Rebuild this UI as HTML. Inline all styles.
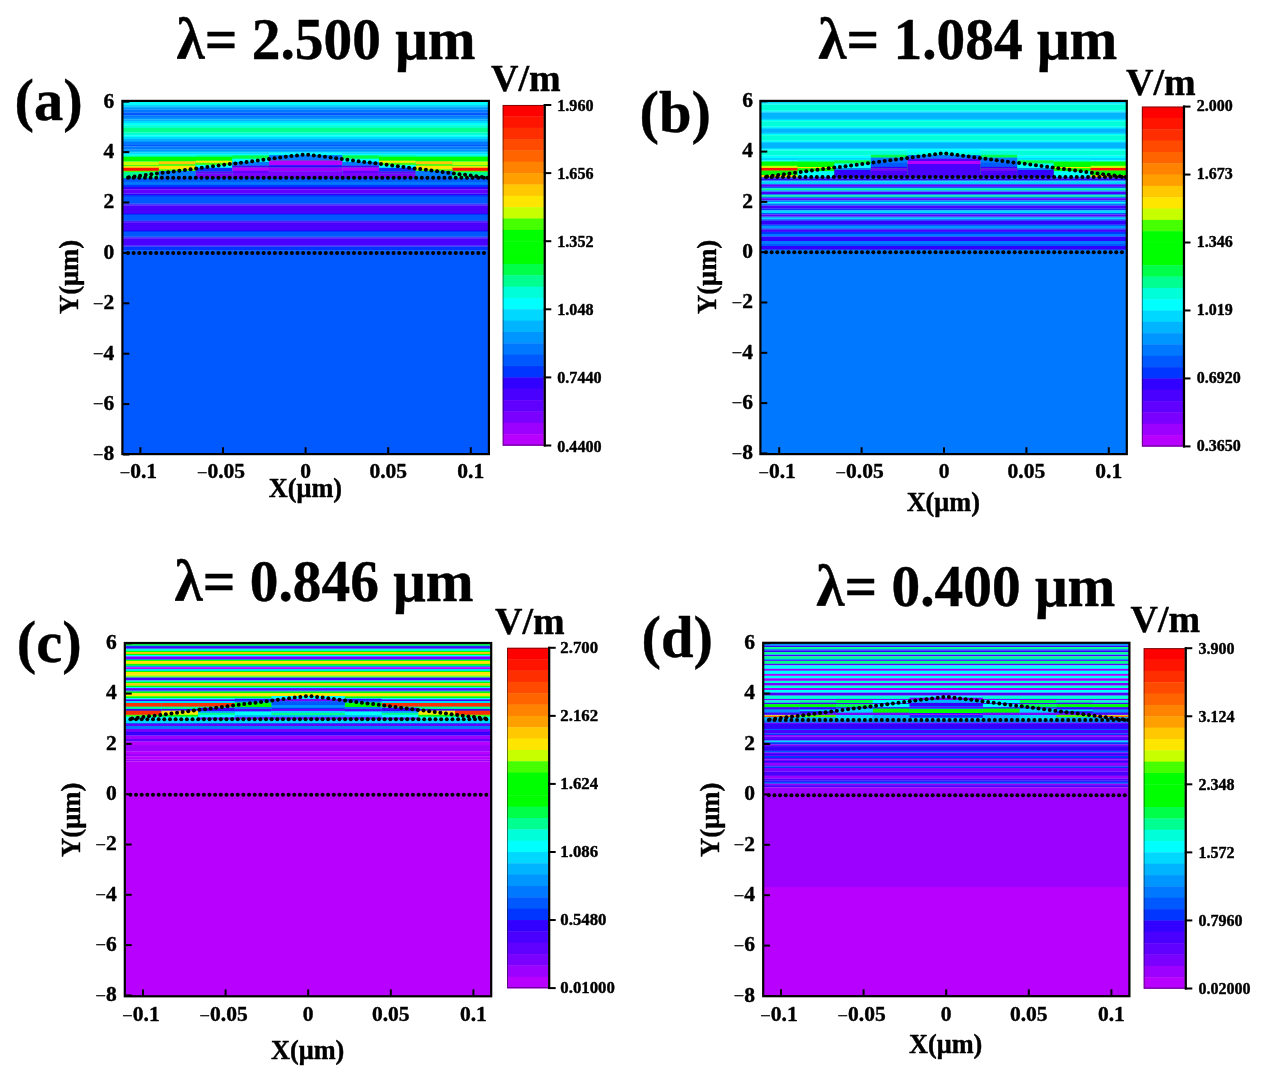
<!DOCTYPE html>
<html><head><meta charset="utf-8"><title>E-field maps</title>
<style>html,body{margin:0;padding:0;background:#fff;}svg{display:block;filter:blur(0.3px);}</style></head>
<body><svg width="1266" height="1079" viewBox="0 0 1266 1079">
<defs><filter id="soft" x="0" y="0" width="1" height="1" color-interpolation-filters="sRGB"><feGaussianBlur stdDeviation="0.7"/></filter><filter id="dsoft" color-interpolation-filters="sRGB"><feGaussianBlur stdDeviation="0.35"/></filter></defs>
<style>text{stroke:#000;stroke-width:0.4px;stroke-linejoin:round;}</style>
<rect width="1266" height="1079" fill="#fff"/>
<clipPath id="clipa"><rect x="122.40" y="100.90" width="366.50" height="353.20"/></clipPath>
<g clip-path="url(#clipa)">
<g filter="url(#soft)">
<rect x="121.30" y="99.00" width="368.70" height="5.95" fill="#00FFFF"/>
<rect x="121.30" y="104.80" width="368.70" height="1.65" fill="#00D8FF"/>
<rect x="121.30" y="106.30" width="368.70" height="1.85" fill="#00B4FF"/>
<rect x="121.30" y="108.00" width="368.70" height="1.75" fill="#0096FF"/>
<rect x="121.30" y="109.60" width="368.70" height="3.15" fill="#0078FF"/>
<rect x="121.30" y="112.60" width="368.70" height="2.75" fill="#0058FF"/>
<rect x="121.30" y="115.20" width="368.70" height="2.75" fill="#0078FF"/>
<rect x="121.30" y="117.80" width="368.70" height="1.85" fill="#0096FF"/>
<rect x="121.30" y="119.50" width="368.70" height="1.65" fill="#00B4FF"/>
<rect x="121.30" y="121.00" width="368.70" height="2.15" fill="#00D8FF"/>
<rect x="121.30" y="123.00" width="368.70" height="2.35" fill="#00FFFF"/>
<rect x="121.30" y="125.20" width="368.70" height="2.75" fill="#00FFD8"/>
<rect x="121.30" y="127.80" width="368.70" height="4.95" fill="#00FF90"/>
<rect x="121.30" y="132.60" width="368.70" height="3.05" fill="#00FFD8"/>
<rect x="121.30" y="135.50" width="368.70" height="1.65" fill="#00FFFF"/>
<rect x="121.30" y="137.00" width="368.70" height="2.15" fill="#00D8FF"/>
<rect x="121.30" y="139.00" width="368.70" height="1.95" fill="#00B4FF"/>
<rect x="121.30" y="140.80" width="368.70" height="1.35" fill="#0096FF"/>
<rect x="121.30" y="142.00" width="368.70" height="2.95" fill="#0078FF"/>
<rect x="121.30" y="144.80" width="368.70" height="1.65" fill="#0058FF"/>
<rect x="121.30" y="146.30" width="368.70" height="3.45" fill="#0078FF"/>
<rect x="121.30" y="149.60" width="368.70" height="1.55" fill="#0096FF"/>
<rect x="121.30" y="151.00" width="368.70" height="1.65" fill="#00B4FF"/>
<rect x="121.30" y="152.50" width="368.70" height="1.55" fill="#00D8FF"/>
<rect x="121.30" y="153.90" width="368.70" height="1.35" fill="#00FFFF"/>
<rect x="121.30" y="155.10" width="368.70" height="1.05" fill="#00FFD8"/>
<rect x="121.30" y="156.00" width="368.70" height="1.15" fill="#00FF90"/>
<rect x="121.30" y="157.00" width="368.70" height="4.75" fill="#00FF00"/>
<rect x="121.30" y="161.60" width="368.70" height="16.35" fill="#00FF90"/>
<rect x="121.30" y="177.80" width="368.70" height="4.25" fill="#0058FF"/>
<rect x="121.30" y="181.90" width="368.70" height="3.15" fill="#0078FF"/>
<rect x="121.30" y="184.90" width="368.70" height="2.25" fill="#0036FF"/>
<rect x="121.30" y="187.00" width="368.70" height="2.45" fill="#3200FF"/>
<rect x="121.30" y="189.30" width="368.70" height="4.25" fill="#6000FF"/>
<rect x="121.30" y="193.40" width="368.70" height="1.75" fill="#3200FF"/>
<rect x="121.30" y="195.00" width="368.70" height="1.95" fill="#0036FF"/>
<rect x="121.30" y="196.80" width="368.70" height="6.75" fill="#0058FF"/>
<rect x="121.30" y="203.40" width="368.70" height="1.15" fill="#0036FF"/>
<rect x="121.30" y="204.40" width="368.70" height="1.15" fill="#3200FF"/>
<rect x="121.30" y="205.40" width="368.70" height="7.75" fill="#4A00FF"/>
<rect x="121.30" y="213.00" width="368.70" height="1.15" fill="#3200FF"/>
<rect x="121.30" y="214.00" width="368.70" height="1.15" fill="#0036FF"/>
<rect x="121.30" y="215.00" width="368.70" height="5.35" fill="#0058FF"/>
<rect x="121.30" y="220.20" width="368.70" height="1.15" fill="#0036FF"/>
<rect x="121.30" y="221.20" width="368.70" height="1.15" fill="#3200FF"/>
<rect x="121.30" y="222.20" width="368.70" height="7.95" fill="#4A00FF"/>
<rect x="121.30" y="230.00" width="368.70" height="1.15" fill="#3200FF"/>
<rect x="121.30" y="231.00" width="368.70" height="1.15" fill="#0036FF"/>
<rect x="121.30" y="232.00" width="368.70" height="4.65" fill="#0058FF"/>
<rect x="121.30" y="236.50" width="368.70" height="1.15" fill="#0036FF"/>
<rect x="121.30" y="237.50" width="368.70" height="1.15" fill="#3200FF"/>
<rect x="121.30" y="238.50" width="368.70" height="7.15" fill="#4A00FF"/>
<rect x="121.30" y="245.50" width="368.70" height="1.15" fill="#3200FF"/>
<rect x="121.30" y="246.50" width="368.70" height="3.75" fill="#0036FF"/>
<rect x="121.30" y="250.10" width="368.70" height="210.05" fill="#0058FF"/>
<rect x="121.30" y="161.60" width="37.60" height="3.75" fill="#C8FF00"/>
<rect x="121.30" y="165.20" width="37.60" height="1.05" fill="#46FF00"/>
<rect x="121.30" y="166.10" width="37.60" height="1.85" fill="#FFE600"/>
<rect x="121.30" y="167.80" width="37.60" height="3.15" fill="#FF1400"/>
<rect x="121.30" y="170.80" width="37.60" height="1.35" fill="#46FF00"/>
<rect x="121.30" y="172.00" width="37.60" height="6.15" fill="#00FF90"/>
<rect x="452.30" y="161.60" width="37.70" height="3.75" fill="#C8FF00"/>
<rect x="452.30" y="165.20" width="37.70" height="1.05" fill="#46FF00"/>
<rect x="452.30" y="166.10" width="37.70" height="1.85" fill="#FFE600"/>
<rect x="452.30" y="167.80" width="37.70" height="3.15" fill="#FF1400"/>
<rect x="452.30" y="170.80" width="37.70" height="1.35" fill="#46FF00"/>
<rect x="452.30" y="172.00" width="37.70" height="6.15" fill="#00FF90"/>
<rect x="158.90" y="161.30" width="36.67" height="3.15" fill="#FFC800"/>
<rect x="158.90" y="164.30" width="36.67" height="1.65" fill="#46FF00"/>
<rect x="158.90" y="165.80" width="36.67" height="3.85" fill="#FFE600"/>
<rect x="158.90" y="169.50" width="36.67" height="1.65" fill="#46FF00"/>
<rect x="158.90" y="171.00" width="36.67" height="7.15" fill="#0078FF"/>
<rect x="415.62" y="161.30" width="36.67" height="3.15" fill="#FFC800"/>
<rect x="415.62" y="164.30" width="36.67" height="1.65" fill="#46FF00"/>
<rect x="415.62" y="165.80" width="36.67" height="3.85" fill="#FFE600"/>
<rect x="415.62" y="169.50" width="36.67" height="1.65" fill="#46FF00"/>
<rect x="415.62" y="171.00" width="36.67" height="7.15" fill="#0078FF"/>
<rect x="195.58" y="155.40" width="36.67" height="1.65" fill="#00FF90"/>
<rect x="195.58" y="156.90" width="36.67" height="3.95" fill="#00FF00"/>
<rect x="195.58" y="160.70" width="36.67" height="2.25" fill="#FFE600"/>
<rect x="195.58" y="162.80" width="36.67" height="2.25" fill="#46FF00"/>
<rect x="195.58" y="164.90" width="36.67" height="3.05" fill="#00FFFF"/>
<rect x="195.58" y="167.80" width="36.67" height="3.65" fill="#0036FF"/>
<rect x="195.58" y="171.30" width="36.67" height="2.35" fill="#6000FF"/>
<rect x="195.58" y="173.50" width="36.67" height="4.45" fill="#7A00FF"/>
<rect x="378.95" y="155.40" width="36.67" height="1.65" fill="#00FF90"/>
<rect x="378.95" y="156.90" width="36.67" height="3.95" fill="#00FF00"/>
<rect x="378.95" y="160.70" width="36.67" height="2.25" fill="#FFE600"/>
<rect x="378.95" y="162.80" width="36.67" height="2.25" fill="#46FF00"/>
<rect x="378.95" y="164.90" width="36.67" height="3.05" fill="#00FFFF"/>
<rect x="378.95" y="167.80" width="36.67" height="3.65" fill="#0036FF"/>
<rect x="378.95" y="171.30" width="36.67" height="2.35" fill="#6000FF"/>
<rect x="378.95" y="173.50" width="36.67" height="4.45" fill="#7A00FF"/>
<rect x="232.25" y="155.40" width="36.67" height="3.45" fill="#00FF48"/>
<rect x="232.25" y="158.70" width="36.67" height="3.35" fill="#00FFFF"/>
<rect x="232.25" y="161.90" width="36.67" height="3.75" fill="#0078FF"/>
<rect x="232.25" y="165.50" width="36.67" height="2.15" fill="#4A00FF"/>
<rect x="232.25" y="167.50" width="36.67" height="3.45" fill="#B800FF"/>
<rect x="232.25" y="170.80" width="36.67" height="2.35" fill="#6000FF"/>
<rect x="232.25" y="173.00" width="36.67" height="5.15" fill="#7A00FF"/>
<rect x="342.27" y="155.40" width="36.67" height="3.45" fill="#00FF48"/>
<rect x="342.27" y="158.70" width="36.67" height="3.35" fill="#00FFFF"/>
<rect x="342.27" y="161.90" width="36.67" height="3.75" fill="#0078FF"/>
<rect x="342.27" y="165.50" width="36.67" height="2.15" fill="#4A00FF"/>
<rect x="342.27" y="167.50" width="36.67" height="3.45" fill="#B800FF"/>
<rect x="342.27" y="170.80" width="36.67" height="2.35" fill="#6000FF"/>
<rect x="342.27" y="173.00" width="36.67" height="5.15" fill="#7A00FF"/>
<rect x="268.93" y="152.70" width="73.35" height="2.55" fill="#00FFFF"/>
<rect x="268.93" y="155.10" width="73.35" height="5.45" fill="#0078FF"/>
<rect x="268.93" y="160.40" width="73.35" height="4.95" fill="#B800FF"/>
<rect x="268.93" y="165.20" width="73.35" height="2.45" fill="#3200FF"/>
<rect x="268.93" y="167.50" width="73.35" height="4.35" fill="#9C00FF"/>
<rect x="268.93" y="171.70" width="73.35" height="6.45" fill="#7A00FF"/>
</g>
<g fill="#000" filter="url(#dsoft)">
<circle cx="128.00" cy="253.00" r="2.0"/>
<circle cx="133.65" cy="253.00" r="2.0"/>
<circle cx="139.30" cy="253.00" r="2.0"/>
<circle cx="144.95" cy="253.00" r="2.0"/>
<circle cx="150.60" cy="253.00" r="2.0"/>
<circle cx="156.25" cy="253.00" r="2.0"/>
<circle cx="161.90" cy="253.00" r="2.0"/>
<circle cx="167.55" cy="253.00" r="2.0"/>
<circle cx="173.20" cy="253.00" r="2.0"/>
<circle cx="178.85" cy="253.00" r="2.0"/>
<circle cx="184.50" cy="253.00" r="2.0"/>
<circle cx="190.15" cy="253.00" r="2.0"/>
<circle cx="195.80" cy="253.00" r="2.0"/>
<circle cx="201.45" cy="253.00" r="2.0"/>
<circle cx="207.10" cy="253.00" r="2.0"/>
<circle cx="212.75" cy="253.00" r="2.0"/>
<circle cx="218.40" cy="253.00" r="2.0"/>
<circle cx="224.05" cy="253.00" r="2.0"/>
<circle cx="229.70" cy="253.00" r="2.0"/>
<circle cx="235.35" cy="253.00" r="2.0"/>
<circle cx="241.00" cy="253.00" r="2.0"/>
<circle cx="246.65" cy="253.00" r="2.0"/>
<circle cx="252.30" cy="253.00" r="2.0"/>
<circle cx="257.95" cy="253.00" r="2.0"/>
<circle cx="263.60" cy="253.00" r="2.0"/>
<circle cx="269.25" cy="253.00" r="2.0"/>
<circle cx="274.90" cy="253.00" r="2.0"/>
<circle cx="280.55" cy="253.00" r="2.0"/>
<circle cx="286.20" cy="253.00" r="2.0"/>
<circle cx="291.85" cy="253.00" r="2.0"/>
<circle cx="297.50" cy="253.00" r="2.0"/>
<circle cx="303.15" cy="253.00" r="2.0"/>
<circle cx="308.80" cy="253.00" r="2.0"/>
<circle cx="314.45" cy="253.00" r="2.0"/>
<circle cx="320.10" cy="253.00" r="2.0"/>
<circle cx="325.75" cy="253.00" r="2.0"/>
<circle cx="331.40" cy="253.00" r="2.0"/>
<circle cx="337.05" cy="253.00" r="2.0"/>
<circle cx="342.70" cy="253.00" r="2.0"/>
<circle cx="348.35" cy="253.00" r="2.0"/>
<circle cx="354.00" cy="253.00" r="2.0"/>
<circle cx="359.65" cy="253.00" r="2.0"/>
<circle cx="365.30" cy="253.00" r="2.0"/>
<circle cx="370.95" cy="253.00" r="2.0"/>
<circle cx="376.60" cy="253.00" r="2.0"/>
<circle cx="382.25" cy="253.00" r="2.0"/>
<circle cx="387.90" cy="253.00" r="2.0"/>
<circle cx="393.55" cy="253.00" r="2.0"/>
<circle cx="399.20" cy="253.00" r="2.0"/>
<circle cx="404.85" cy="253.00" r="2.0"/>
<circle cx="410.50" cy="253.00" r="2.0"/>
<circle cx="416.15" cy="253.00" r="2.0"/>
<circle cx="421.80" cy="253.00" r="2.0"/>
<circle cx="427.45" cy="253.00" r="2.0"/>
<circle cx="433.10" cy="253.00" r="2.0"/>
<circle cx="438.75" cy="253.00" r="2.0"/>
<circle cx="444.40" cy="253.00" r="2.0"/>
<circle cx="450.05" cy="253.00" r="2.0"/>
<circle cx="455.70" cy="253.00" r="2.0"/>
<circle cx="461.35" cy="253.00" r="2.0"/>
<circle cx="467.00" cy="253.00" r="2.0"/>
<circle cx="472.65" cy="253.00" r="2.0"/>
<circle cx="478.30" cy="253.00" r="2.0"/>
<circle cx="483.95" cy="253.00" r="2.0"/>
<circle cx="128.00" cy="177.80" r="2.0"/>
<circle cx="133.65" cy="177.80" r="2.0"/>
<circle cx="139.30" cy="177.80" r="2.0"/>
<circle cx="144.95" cy="177.80" r="2.0"/>
<circle cx="150.60" cy="177.80" r="2.0"/>
<circle cx="156.25" cy="177.80" r="2.0"/>
<circle cx="161.90" cy="177.80" r="2.0"/>
<circle cx="167.55" cy="177.80" r="2.0"/>
<circle cx="173.20" cy="177.80" r="2.0"/>
<circle cx="178.85" cy="177.80" r="2.0"/>
<circle cx="184.50" cy="177.80" r="2.0"/>
<circle cx="190.15" cy="177.80" r="2.0"/>
<circle cx="195.80" cy="177.80" r="2.0"/>
<circle cx="201.45" cy="177.80" r="2.0"/>
<circle cx="207.10" cy="177.80" r="2.0"/>
<circle cx="212.75" cy="177.80" r="2.0"/>
<circle cx="218.40" cy="177.80" r="2.0"/>
<circle cx="224.05" cy="177.80" r="2.0"/>
<circle cx="229.70" cy="177.80" r="2.0"/>
<circle cx="235.35" cy="177.80" r="2.0"/>
<circle cx="241.00" cy="177.80" r="2.0"/>
<circle cx="246.65" cy="177.80" r="2.0"/>
<circle cx="252.30" cy="177.80" r="2.0"/>
<circle cx="257.95" cy="177.80" r="2.0"/>
<circle cx="263.60" cy="177.80" r="2.0"/>
<circle cx="269.25" cy="177.80" r="2.0"/>
<circle cx="274.90" cy="177.80" r="2.0"/>
<circle cx="280.55" cy="177.80" r="2.0"/>
<circle cx="286.20" cy="177.80" r="2.0"/>
<circle cx="291.85" cy="177.80" r="2.0"/>
<circle cx="297.50" cy="177.80" r="2.0"/>
<circle cx="303.15" cy="177.80" r="2.0"/>
<circle cx="308.80" cy="177.80" r="2.0"/>
<circle cx="314.45" cy="177.80" r="2.0"/>
<circle cx="320.10" cy="177.80" r="2.0"/>
<circle cx="325.75" cy="177.80" r="2.0"/>
<circle cx="331.40" cy="177.80" r="2.0"/>
<circle cx="337.05" cy="177.80" r="2.0"/>
<circle cx="342.70" cy="177.80" r="2.0"/>
<circle cx="348.35" cy="177.80" r="2.0"/>
<circle cx="354.00" cy="177.80" r="2.0"/>
<circle cx="359.65" cy="177.80" r="2.0"/>
<circle cx="365.30" cy="177.80" r="2.0"/>
<circle cx="370.95" cy="177.80" r="2.0"/>
<circle cx="376.60" cy="177.80" r="2.0"/>
<circle cx="382.25" cy="177.80" r="2.0"/>
<circle cx="387.90" cy="177.80" r="2.0"/>
<circle cx="393.55" cy="177.80" r="2.0"/>
<circle cx="399.20" cy="177.80" r="2.0"/>
<circle cx="404.85" cy="177.80" r="2.0"/>
<circle cx="410.50" cy="177.80" r="2.0"/>
<circle cx="416.15" cy="177.80" r="2.0"/>
<circle cx="421.80" cy="177.80" r="2.0"/>
<circle cx="427.45" cy="177.80" r="2.0"/>
<circle cx="433.10" cy="177.80" r="2.0"/>
<circle cx="438.75" cy="177.80" r="2.0"/>
<circle cx="444.40" cy="177.80" r="2.0"/>
<circle cx="450.05" cy="177.80" r="2.0"/>
<circle cx="455.70" cy="177.80" r="2.0"/>
<circle cx="461.35" cy="177.80" r="2.0"/>
<circle cx="467.00" cy="177.80" r="2.0"/>
<circle cx="472.65" cy="177.80" r="2.0"/>
<circle cx="478.30" cy="177.80" r="2.0"/>
<circle cx="483.95" cy="177.80" r="2.0"/>
<circle cx="302.62" cy="154.66" r="2.0"/>
<circle cx="297.02" cy="155.39" r="2.0"/>
<circle cx="291.42" cy="156.12" r="2.0"/>
<circle cx="285.81" cy="156.84" r="2.0"/>
<circle cx="280.21" cy="157.57" r="2.0"/>
<circle cx="274.61" cy="158.30" r="2.0"/>
<circle cx="269.01" cy="159.03" r="2.0"/>
<circle cx="263.40" cy="159.76" r="2.0"/>
<circle cx="257.80" cy="160.48" r="2.0"/>
<circle cx="252.20" cy="161.21" r="2.0"/>
<circle cx="246.59" cy="161.94" r="2.0"/>
<circle cx="240.99" cy="162.67" r="2.0"/>
<circle cx="235.39" cy="163.39" r="2.0"/>
<circle cx="229.79" cy="164.12" r="2.0"/>
<circle cx="224.18" cy="164.85" r="2.0"/>
<circle cx="218.58" cy="165.58" r="2.0"/>
<circle cx="212.98" cy="166.31" r="2.0"/>
<circle cx="207.37" cy="167.03" r="2.0"/>
<circle cx="201.77" cy="167.76" r="2.0"/>
<circle cx="196.17" cy="168.49" r="2.0"/>
<circle cx="190.56" cy="169.22" r="2.0"/>
<circle cx="184.96" cy="169.95" r="2.0"/>
<circle cx="179.36" cy="170.67" r="2.0"/>
<circle cx="173.76" cy="171.40" r="2.0"/>
<circle cx="168.15" cy="172.13" r="2.0"/>
<circle cx="162.55" cy="172.86" r="2.0"/>
<circle cx="156.95" cy="173.58" r="2.0"/>
<circle cx="151.34" cy="174.31" r="2.0"/>
<circle cx="145.74" cy="175.04" r="2.0"/>
<circle cx="140.14" cy="175.77" r="2.0"/>
<circle cx="134.54" cy="176.50" r="2.0"/>
<circle cx="128.93" cy="177.22" r="2.0"/>
<circle cx="308.18" cy="154.66" r="2.0"/>
<circle cx="313.78" cy="155.38" r="2.0"/>
<circle cx="319.38" cy="156.10" r="2.0"/>
<circle cx="324.99" cy="156.82" r="2.0"/>
<circle cx="330.59" cy="157.55" r="2.0"/>
<circle cx="336.20" cy="158.27" r="2.0"/>
<circle cx="341.80" cy="158.99" r="2.0"/>
<circle cx="347.40" cy="159.71" r="2.0"/>
<circle cx="353.01" cy="160.43" r="2.0"/>
<circle cx="358.61" cy="161.16" r="2.0"/>
<circle cx="364.21" cy="161.88" r="2.0"/>
<circle cx="369.82" cy="162.60" r="2.0"/>
<circle cx="375.42" cy="163.32" r="2.0"/>
<circle cx="381.02" cy="164.04" r="2.0"/>
<circle cx="386.63" cy="164.77" r="2.0"/>
<circle cx="392.23" cy="165.49" r="2.0"/>
<circle cx="397.84" cy="166.21" r="2.0"/>
<circle cx="403.44" cy="166.93" r="2.0"/>
<circle cx="409.04" cy="167.65" r="2.0"/>
<circle cx="414.65" cy="168.38" r="2.0"/>
<circle cx="420.25" cy="169.10" r="2.0"/>
<circle cx="425.85" cy="169.82" r="2.0"/>
<circle cx="431.46" cy="170.54" r="2.0"/>
<circle cx="437.06" cy="171.26" r="2.0"/>
<circle cx="442.67" cy="171.98" r="2.0"/>
<circle cx="448.27" cy="172.71" r="2.0"/>
<circle cx="453.87" cy="173.43" r="2.0"/>
<circle cx="459.48" cy="174.15" r="2.0"/>
<circle cx="465.08" cy="174.87" r="2.0"/>
<circle cx="470.68" cy="175.59" r="2.0"/>
<circle cx="476.29" cy="176.32" r="2.0"/>
<circle cx="481.89" cy="177.04" r="2.0"/>
<circle cx="487.49" cy="177.76" r="2.0"/>
</g>
</g>
<rect x="122.40" y="100.90" width="366.50" height="353.20" fill="none" stroke="#000" stroke-width="2.2"/>
<line x1="123.00" y1="101.70" x2="129.30" y2="101.70" stroke="#000" stroke-width="2"/>
<text x="114.20" y="107.50" text-anchor="end" style="font-family:'Liberation Serif',serif;font-weight:bold;font-size:21.5px">6</text>
<line x1="123.00" y1="152.10" x2="129.30" y2="152.10" stroke="#000" stroke-width="2"/>
<text x="114.20" y="157.90" text-anchor="end" style="font-family:'Liberation Serif',serif;font-weight:bold;font-size:21.5px">4</text>
<line x1="123.00" y1="202.50" x2="129.30" y2="202.50" stroke="#000" stroke-width="2"/>
<text x="114.20" y="208.30" text-anchor="end" style="font-family:'Liberation Serif',serif;font-weight:bold;font-size:21.5px">2</text>
<line x1="123.00" y1="252.90" x2="129.30" y2="252.90" stroke="#000" stroke-width="2"/>
<text x="114.20" y="258.70" text-anchor="end" style="font-family:'Liberation Serif',serif;font-weight:bold;font-size:21.5px">0</text>
<line x1="123.00" y1="303.30" x2="129.30" y2="303.30" stroke="#000" stroke-width="2"/>
<text x="114.20" y="309.10" text-anchor="end" style="font-family:'Liberation Serif',serif;font-weight:bold;font-size:21.5px"><tspan dy="0.5" style="font-weight:normal;font-size:18.5px">−</tspan><tspan dy="-0.5">2</tspan></text>
<line x1="123.00" y1="353.70" x2="129.30" y2="353.70" stroke="#000" stroke-width="2"/>
<text x="114.20" y="359.50" text-anchor="end" style="font-family:'Liberation Serif',serif;font-weight:bold;font-size:21.5px"><tspan dy="0.5" style="font-weight:normal;font-size:18.5px">−</tspan><tspan dy="-0.5">4</tspan></text>
<line x1="123.00" y1="404.10" x2="129.30" y2="404.10" stroke="#000" stroke-width="2"/>
<text x="114.20" y="409.90" text-anchor="end" style="font-family:'Liberation Serif',serif;font-weight:bold;font-size:21.5px"><tspan dy="0.5" style="font-weight:normal;font-size:18.5px">−</tspan><tspan dy="-0.5">6</tspan></text>
<line x1="123.00" y1="454.50" x2="129.30" y2="454.50" stroke="#000" stroke-width="2"/>
<text x="114.20" y="460.30" text-anchor="end" style="font-family:'Liberation Serif',serif;font-weight:bold;font-size:21.5px"><tspan dy="0.5" style="font-weight:normal;font-size:18.5px">−</tspan><tspan dy="-0.5">8</tspan></text>
<line x1="140.40" y1="453.50" x2="140.40" y2="447.20" stroke="#000" stroke-width="2"/>
<text x="138.40" y="477.70" text-anchor="middle" style="font-family:'Liberation Serif',serif;font-weight:bold;font-size:21.5px"><tspan dy="1.0" style="font-weight:normal;font-size:18.5px">−</tspan><tspan dy="-1.0">0.1</tspan></text>
<line x1="223.00" y1="453.50" x2="223.00" y2="447.20" stroke="#000" stroke-width="2"/>
<text x="221.00" y="477.70" text-anchor="middle" style="font-family:'Liberation Serif',serif;font-weight:bold;font-size:21.5px"><tspan dy="1.0" style="font-weight:normal;font-size:18.5px">−</tspan><tspan dy="-1.0">0.05</tspan></text>
<line x1="305.60" y1="453.50" x2="305.60" y2="447.20" stroke="#000" stroke-width="2"/>
<text x="305.60" y="477.70" text-anchor="middle" style="font-family:'Liberation Serif',serif;font-weight:bold;font-size:21.5px">0</text>
<line x1="388.20" y1="453.50" x2="388.20" y2="447.20" stroke="#000" stroke-width="2"/>
<text x="388.20" y="477.70" text-anchor="middle" style="font-family:'Liberation Serif',serif;font-weight:bold;font-size:21.5px">0.05</text>
<line x1="470.80" y1="453.50" x2="470.80" y2="447.20" stroke="#000" stroke-width="2"/>
<text x="470.80" y="477.70" text-anchor="middle" style="font-family:'Liberation Serif',serif;font-weight:bold;font-size:21.5px">0.1</text>
<text x="305.40" y="497.30" text-anchor="middle" style="font-family:'Liberation Serif',serif;font-weight:bold;font-size:26.3px">X(μm)</text>
<text transform="translate(77.70,277.00) rotate(-90)" x="0" y="0" text-anchor="middle" style="font-family:'Liberation Serif',serif;font-weight:bold;font-size:26.6px">Y(μm)</text>
<text transform="translate(326.00,58.60) scale(1,1.045)" x="0" y="0" text-anchor="middle" style="font-family:'Liberation Serif',serif;font-weight:bold;font-size:57.4px">λ= 2.500 μm</text>
<text x="14.60" y="120.00" style="font-family:'Liberation Serif',serif;font-weight:bold;font-size:58.5px">(a)</text>
<rect x="502.70" y="105.00" width="41.10" height="11.75" fill="#FF0000"/>
<rect x="502.70" y="116.35" width="41.10" height="11.75" fill="#FF1400"/>
<rect x="502.70" y="127.70" width="41.10" height="11.75" fill="#FF2E00"/>
<rect x="502.70" y="139.05" width="41.10" height="11.75" fill="#FF4A00"/>
<rect x="502.70" y="150.40" width="41.10" height="11.75" fill="#FF6400"/>
<rect x="502.70" y="161.75" width="41.10" height="11.75" fill="#FF8200"/>
<rect x="502.70" y="173.10" width="41.10" height="11.75" fill="#FFA000"/>
<rect x="502.70" y="184.45" width="41.10" height="11.75" fill="#FFC800"/>
<rect x="502.70" y="195.80" width="41.10" height="11.75" fill="#FFE600"/>
<rect x="502.70" y="207.15" width="41.10" height="11.75" fill="#C8FF00"/>
<rect x="502.70" y="218.50" width="41.10" height="11.75" fill="#46FF00"/>
<rect x="502.70" y="229.85" width="41.10" height="11.75" fill="#00FF00"/>
<rect x="502.70" y="241.20" width="41.10" height="11.75" fill="#00FF00"/>
<rect x="502.70" y="252.55" width="41.10" height="11.75" fill="#00FF00"/>
<rect x="502.70" y="263.90" width="41.10" height="11.75" fill="#00FF48"/>
<rect x="502.70" y="275.25" width="41.10" height="11.75" fill="#00FF90"/>
<rect x="502.70" y="286.60" width="41.10" height="11.75" fill="#00FFD8"/>
<rect x="502.70" y="297.95" width="41.10" height="11.75" fill="#00FFFF"/>
<rect x="502.70" y="309.30" width="41.10" height="11.75" fill="#00D8FF"/>
<rect x="502.70" y="320.65" width="41.10" height="11.75" fill="#00B4FF"/>
<rect x="502.70" y="332.00" width="41.10" height="11.75" fill="#0096FF"/>
<rect x="502.70" y="343.35" width="41.10" height="11.75" fill="#0078FF"/>
<rect x="502.70" y="354.70" width="41.10" height="11.75" fill="#0058FF"/>
<rect x="502.70" y="366.05" width="41.10" height="11.75" fill="#0036FF"/>
<rect x="502.70" y="377.40" width="41.10" height="11.75" fill="#3200FF"/>
<rect x="502.70" y="388.75" width="41.10" height="11.75" fill="#4A00FF"/>
<rect x="502.70" y="400.10" width="41.10" height="11.75" fill="#6000FF"/>
<rect x="502.70" y="411.45" width="41.10" height="11.75" fill="#7A00FF"/>
<rect x="502.70" y="422.80" width="41.10" height="11.75" fill="#9C00FF"/>
<rect x="502.70" y="434.15" width="41.10" height="11.75" fill="#B800FF"/>
<rect x="503.10" y="105.40" width="41.10" height="339.70" fill="none" stroke="#000" stroke-opacity="0.5" stroke-width="1"/>
<line x1="544.80" y1="104.00" x2="544.80" y2="446.50" stroke="#000" stroke-width="2.2"/>
<line x1="543.80" y1="105.00" x2="551.30" y2="105.00" stroke="#000" stroke-width="2"/>
<text x="557.30" y="111.00" style="font-family:'Liberation Serif',serif;font-weight:bold;font-size:16.1px">1.960</text>
<line x1="543.80" y1="173.10" x2="551.30" y2="173.10" stroke="#000" stroke-width="2"/>
<text x="557.30" y="179.10" style="font-family:'Liberation Serif',serif;font-weight:bold;font-size:16.1px">1.656</text>
<line x1="543.80" y1="241.20" x2="551.30" y2="241.20" stroke="#000" stroke-width="2"/>
<text x="557.30" y="247.20" style="font-family:'Liberation Serif',serif;font-weight:bold;font-size:16.1px">1.352</text>
<line x1="543.80" y1="309.30" x2="551.30" y2="309.30" stroke="#000" stroke-width="2"/>
<text x="557.30" y="315.30" style="font-family:'Liberation Serif',serif;font-weight:bold;font-size:16.1px">1.048</text>
<line x1="543.80" y1="377.40" x2="551.30" y2="377.40" stroke="#000" stroke-width="2"/>
<text x="557.30" y="383.40" style="font-family:'Liberation Serif',serif;font-weight:bold;font-size:16.1px">0.7440</text>
<line x1="543.80" y1="445.50" x2="551.30" y2="445.50" stroke="#000" stroke-width="2"/>
<text x="557.30" y="451.50" style="font-family:'Liberation Serif',serif;font-weight:bold;font-size:16.1px">0.4400</text>
<text x="491.00" y="91.10" style="font-family:'Liberation Serif',serif;font-weight:bold;font-size:38px">V/m</text>
<clipPath id="clipb"><rect x="760.40" y="100.90" width="366.40" height="353.20"/></clipPath>
<g clip-path="url(#clipb)">
<g filter="url(#soft)">
<rect x="759.30" y="99.00" width="368.60" height="4.75" fill="#00D8FF"/>
<rect x="759.30" y="103.60" width="368.60" height="1.15" fill="#00FFFF"/>
<rect x="759.30" y="104.60" width="368.60" height="6.15" fill="#00FFD8"/>
<rect x="759.30" y="110.60" width="368.60" height="1.15" fill="#00FFFF"/>
<rect x="759.30" y="111.60" width="368.60" height="1.15" fill="#00D8FF"/>
<rect x="759.30" y="112.60" width="368.60" height="6.35" fill="#00B4FF"/>
<rect x="759.30" y="118.80" width="368.60" height="1.35" fill="#00D8FF"/>
<rect x="759.30" y="120.00" width="368.60" height="1.35" fill="#00FFFF"/>
<rect x="759.30" y="121.20" width="368.60" height="5.55" fill="#00FFD8"/>
<rect x="759.30" y="126.60" width="368.60" height="1.35" fill="#00FFFF"/>
<rect x="759.30" y="127.80" width="368.60" height="1.35" fill="#00D8FF"/>
<rect x="759.30" y="129.00" width="368.60" height="3.95" fill="#00B4FF"/>
<rect x="759.30" y="132.80" width="368.60" height="1.35" fill="#00D8FF"/>
<rect x="759.30" y="134.00" width="368.60" height="1.35" fill="#00FFFF"/>
<rect x="759.30" y="135.20" width="368.60" height="5.55" fill="#00FFD8"/>
<rect x="759.30" y="140.60" width="368.60" height="1.35" fill="#00FFFF"/>
<rect x="759.30" y="141.80" width="368.60" height="1.15" fill="#00D8FF"/>
<rect x="759.30" y="142.80" width="368.60" height="5.35" fill="#00B4FF"/>
<rect x="759.30" y="148.00" width="368.60" height="1.35" fill="#00D8FF"/>
<rect x="759.30" y="149.20" width="368.60" height="1.45" fill="#00FFFF"/>
<rect x="759.30" y="150.50" width="368.60" height="5.15" fill="#00FFD8"/>
<rect x="759.30" y="155.50" width="368.60" height="2.65" fill="#00FFFF"/>
<rect x="759.30" y="158.00" width="368.60" height="2.35" fill="#00D8FF"/>
<rect x="759.30" y="160.20" width="368.60" height="1.65" fill="#00FFFF"/>
<rect x="759.30" y="161.70" width="368.60" height="15.55" fill="#00FF00"/>
<rect x="759.30" y="177.10" width="368.60" height="1.55" fill="#0036FF"/>
<rect x="759.30" y="178.50" width="368.60" height="2.05" fill="#3200FF"/>
<rect x="759.30" y="180.40" width="368.60" height="0.95" fill="#0078FF"/>
<rect x="759.30" y="181.20" width="368.60" height="2.85" fill="#00D8FF"/>
<rect x="759.30" y="183.90" width="368.60" height="0.85" fill="#0058FF"/>
<rect x="759.30" y="184.60" width="368.60" height="2.25" fill="#6000FF"/>
<rect x="759.30" y="186.70" width="368.60" height="1.25" fill="#0036FF"/>
<rect x="759.30" y="187.80" width="368.60" height="0.95" fill="#00B4FF"/>
<rect x="759.30" y="188.60" width="368.60" height="1.65" fill="#00FF90"/>
<rect x="759.30" y="190.10" width="368.60" height="1.65" fill="#00B4FF"/>
<rect x="759.30" y="191.60" width="368.60" height="2.65" fill="#4A00FF"/>
<rect x="759.30" y="194.10" width="368.60" height="1.35" fill="#0078FF"/>
<rect x="759.30" y="195.30" width="368.60" height="1.55" fill="#00FF90"/>
<rect x="759.30" y="196.70" width="368.60" height="1.65" fill="#0078FF"/>
<rect x="759.30" y="198.20" width="368.60" height="2.35" fill="#6000FF"/>
<rect x="759.30" y="200.40" width="368.60" height="1.65" fill="#0078FF"/>
<rect x="759.30" y="201.90" width="368.60" height="1.65" fill="#00FFFF"/>
<rect x="759.30" y="203.40" width="368.60" height="2.35" fill="#0078FF"/>
<rect x="759.30" y="205.60" width="368.60" height="3.15" fill="#4A00FF"/>
<rect x="759.30" y="208.60" width="368.60" height="1.95" fill="#0036FF"/>
<rect x="759.30" y="210.40" width="368.60" height="2.75" fill="#00D8FF"/>
<rect x="759.30" y="213.00" width="368.60" height="1.65" fill="#0058FF"/>
<rect x="759.30" y="214.50" width="368.60" height="2.25" fill="#6000FF"/>
<rect x="759.30" y="216.60" width="368.60" height="1.25" fill="#0078FF"/>
<rect x="759.30" y="217.70" width="368.60" height="1.65" fill="#00D8FF"/>
<rect x="759.30" y="219.20" width="368.60" height="1.65" fill="#0058FF"/>
<rect x="759.30" y="220.70" width="368.60" height="4.15" fill="#3200FF"/>
<rect x="759.30" y="224.70" width="368.60" height="1.35" fill="#0058FF"/>
<rect x="759.30" y="225.90" width="368.60" height="2.65" fill="#0096FF"/>
<rect x="759.30" y="228.40" width="368.60" height="1.35" fill="#0036FF"/>
<rect x="759.30" y="229.60" width="368.60" height="2.35" fill="#4A00FF"/>
<rect x="759.30" y="231.80" width="368.60" height="2.35" fill="#0036FF"/>
<rect x="759.30" y="234.00" width="368.60" height="2.75" fill="#0078FF"/>
<rect x="759.30" y="236.60" width="368.60" height="4.55" fill="#3200FF"/>
<rect x="759.30" y="241.00" width="368.60" height="3.15" fill="#0078FF"/>
<rect x="759.30" y="244.00" width="368.60" height="2.15" fill="#0058FF"/>
<rect x="759.30" y="246.00" width="368.60" height="3.95" fill="#3200FF"/>
<rect x="759.30" y="249.60" width="368.60" height="210.55" fill="#0078FF"/>
<rect x="759.30" y="161.70" width="38.36" height="4.25" fill="#00FF00"/>
<rect x="759.30" y="165.80" width="38.36" height="1.65" fill="#C8FF00"/>
<rect x="759.30" y="167.30" width="38.36" height="0.85" fill="#FFE600"/>
<rect x="759.30" y="168.00" width="38.36" height="2.75" fill="#FF1400"/>
<rect x="759.30" y="170.60" width="38.36" height="0.85" fill="#46FF00"/>
<rect x="759.30" y="171.30" width="38.36" height="3.85" fill="#00FF00"/>
<rect x="759.30" y="175.00" width="38.36" height="2.25" fill="#FFC800"/>
<rect x="1090.34" y="161.70" width="37.56" height="4.25" fill="#00FF00"/>
<rect x="1090.34" y="165.80" width="37.56" height="1.65" fill="#C8FF00"/>
<rect x="1090.34" y="167.30" width="37.56" height="0.85" fill="#FFE600"/>
<rect x="1090.34" y="168.00" width="37.56" height="2.75" fill="#FF1400"/>
<rect x="1090.34" y="170.60" width="37.56" height="0.85" fill="#46FF00"/>
<rect x="1090.34" y="171.30" width="37.56" height="3.85" fill="#00FF00"/>
<rect x="1090.34" y="175.00" width="37.56" height="2.25" fill="#FFC800"/>
<rect x="797.66" y="159.60" width="36.59" height="2.15" fill="#00FFD8"/>
<rect x="797.66" y="161.60" width="36.59" height="5.55" fill="#00FF00"/>
<rect x="797.66" y="167.00" width="36.59" height="1.55" fill="#FFE600"/>
<rect x="797.66" y="168.40" width="36.59" height="2.85" fill="#00FF00"/>
<rect x="797.66" y="171.10" width="36.59" height="6.15" fill="#00FFFF"/>
<rect x="1053.76" y="159.60" width="36.59" height="2.15" fill="#00FFD8"/>
<rect x="1053.76" y="161.60" width="36.59" height="5.55" fill="#00FF00"/>
<rect x="1053.76" y="167.00" width="36.59" height="1.55" fill="#FFE600"/>
<rect x="1053.76" y="168.40" width="36.59" height="2.85" fill="#00FF00"/>
<rect x="1053.76" y="171.10" width="36.59" height="6.15" fill="#00FFFF"/>
<rect x="834.24" y="159.60" width="36.59" height="0.95" fill="#00FFD8"/>
<rect x="834.24" y="160.40" width="36.59" height="3.15" fill="#00FF48"/>
<rect x="834.24" y="163.40" width="36.59" height="4.85" fill="#00FFFF"/>
<rect x="834.24" y="168.10" width="36.59" height="2.05" fill="#0078FF"/>
<rect x="834.24" y="170.00" width="36.59" height="7.25" fill="#3200FF"/>
<rect x="1017.17" y="159.60" width="36.59" height="0.95" fill="#00FFD8"/>
<rect x="1017.17" y="160.40" width="36.59" height="3.15" fill="#00FF48"/>
<rect x="1017.17" y="163.40" width="36.59" height="4.85" fill="#00FFFF"/>
<rect x="1017.17" y="168.10" width="36.59" height="2.05" fill="#0078FF"/>
<rect x="1017.17" y="170.00" width="36.59" height="7.25" fill="#3200FF"/>
<rect x="870.83" y="152.10" width="36.59" height="2.85" fill="#00FFD8"/>
<rect x="870.83" y="154.80" width="36.59" height="2.95" fill="#00FF48"/>
<rect x="870.83" y="157.60" width="36.59" height="5.45" fill="#0078FF"/>
<rect x="870.83" y="162.90" width="36.59" height="4.05" fill="#0058FF"/>
<rect x="870.83" y="166.80" width="36.59" height="1.65" fill="#3200FF"/>
<rect x="870.83" y="168.30" width="36.59" height="2.65" fill="#7A00FF"/>
<rect x="870.83" y="170.80" width="36.59" height="6.45" fill="#4A00FF"/>
<rect x="980.59" y="152.10" width="36.59" height="2.85" fill="#00FFD8"/>
<rect x="980.59" y="154.80" width="36.59" height="2.95" fill="#00FF48"/>
<rect x="980.59" y="157.60" width="36.59" height="5.45" fill="#0078FF"/>
<rect x="980.59" y="162.90" width="36.59" height="4.05" fill="#0058FF"/>
<rect x="980.59" y="166.80" width="36.59" height="1.65" fill="#3200FF"/>
<rect x="980.59" y="168.30" width="36.59" height="2.65" fill="#7A00FF"/>
<rect x="980.59" y="170.80" width="36.59" height="6.45" fill="#4A00FF"/>
<rect x="907.41" y="149.70" width="73.17" height="3.15" fill="#00FFFF"/>
<rect x="907.41" y="152.70" width="73.17" height="2.45" fill="#00FFD8"/>
<rect x="907.41" y="155.00" width="73.17" height="3.75" fill="#0078FF"/>
<rect x="907.41" y="158.60" width="73.17" height="2.55" fill="#4A00FF"/>
<rect x="907.41" y="161.00" width="73.17" height="3.15" fill="#B800FF"/>
<rect x="907.41" y="164.00" width="73.17" height="13.25" fill="#4A00FF"/>
</g>
<g fill="#000" filter="url(#dsoft)">
<circle cx="766.00" cy="252.20" r="2.0"/>
<circle cx="771.65" cy="252.20" r="2.0"/>
<circle cx="777.30" cy="252.20" r="2.0"/>
<circle cx="782.95" cy="252.20" r="2.0"/>
<circle cx="788.60" cy="252.20" r="2.0"/>
<circle cx="794.25" cy="252.20" r="2.0"/>
<circle cx="799.90" cy="252.20" r="2.0"/>
<circle cx="805.55" cy="252.20" r="2.0"/>
<circle cx="811.20" cy="252.20" r="2.0"/>
<circle cx="816.85" cy="252.20" r="2.0"/>
<circle cx="822.50" cy="252.20" r="2.0"/>
<circle cx="828.15" cy="252.20" r="2.0"/>
<circle cx="833.80" cy="252.20" r="2.0"/>
<circle cx="839.45" cy="252.20" r="2.0"/>
<circle cx="845.10" cy="252.20" r="2.0"/>
<circle cx="850.75" cy="252.20" r="2.0"/>
<circle cx="856.40" cy="252.20" r="2.0"/>
<circle cx="862.05" cy="252.20" r="2.0"/>
<circle cx="867.70" cy="252.20" r="2.0"/>
<circle cx="873.35" cy="252.20" r="2.0"/>
<circle cx="879.00" cy="252.20" r="2.0"/>
<circle cx="884.65" cy="252.20" r="2.0"/>
<circle cx="890.30" cy="252.20" r="2.0"/>
<circle cx="895.95" cy="252.20" r="2.0"/>
<circle cx="901.60" cy="252.20" r="2.0"/>
<circle cx="907.25" cy="252.20" r="2.0"/>
<circle cx="912.90" cy="252.20" r="2.0"/>
<circle cx="918.55" cy="252.20" r="2.0"/>
<circle cx="924.20" cy="252.20" r="2.0"/>
<circle cx="929.85" cy="252.20" r="2.0"/>
<circle cx="935.50" cy="252.20" r="2.0"/>
<circle cx="941.15" cy="252.20" r="2.0"/>
<circle cx="946.80" cy="252.20" r="2.0"/>
<circle cx="952.45" cy="252.20" r="2.0"/>
<circle cx="958.10" cy="252.20" r="2.0"/>
<circle cx="963.75" cy="252.20" r="2.0"/>
<circle cx="969.40" cy="252.20" r="2.0"/>
<circle cx="975.05" cy="252.20" r="2.0"/>
<circle cx="980.70" cy="252.20" r="2.0"/>
<circle cx="986.35" cy="252.20" r="2.0"/>
<circle cx="992.00" cy="252.20" r="2.0"/>
<circle cx="997.65" cy="252.20" r="2.0"/>
<circle cx="1003.30" cy="252.20" r="2.0"/>
<circle cx="1008.95" cy="252.20" r="2.0"/>
<circle cx="1014.60" cy="252.20" r="2.0"/>
<circle cx="1020.25" cy="252.20" r="2.0"/>
<circle cx="1025.90" cy="252.20" r="2.0"/>
<circle cx="1031.55" cy="252.20" r="2.0"/>
<circle cx="1037.20" cy="252.20" r="2.0"/>
<circle cx="1042.85" cy="252.20" r="2.0"/>
<circle cx="1048.50" cy="252.20" r="2.0"/>
<circle cx="1054.15" cy="252.20" r="2.0"/>
<circle cx="1059.80" cy="252.20" r="2.0"/>
<circle cx="1065.45" cy="252.20" r="2.0"/>
<circle cx="1071.10" cy="252.20" r="2.0"/>
<circle cx="1076.75" cy="252.20" r="2.0"/>
<circle cx="1082.40" cy="252.20" r="2.0"/>
<circle cx="1088.05" cy="252.20" r="2.0"/>
<circle cx="1093.70" cy="252.20" r="2.0"/>
<circle cx="1099.35" cy="252.20" r="2.0"/>
<circle cx="1105.00" cy="252.20" r="2.0"/>
<circle cx="1110.65" cy="252.20" r="2.0"/>
<circle cx="1116.30" cy="252.20" r="2.0"/>
<circle cx="1121.95" cy="252.20" r="2.0"/>
<circle cx="766.00" cy="177.10" r="2.0"/>
<circle cx="771.65" cy="177.10" r="2.0"/>
<circle cx="777.30" cy="177.10" r="2.0"/>
<circle cx="782.95" cy="177.10" r="2.0"/>
<circle cx="788.60" cy="177.10" r="2.0"/>
<circle cx="794.25" cy="177.10" r="2.0"/>
<circle cx="799.90" cy="177.10" r="2.0"/>
<circle cx="805.55" cy="177.10" r="2.0"/>
<circle cx="811.20" cy="177.10" r="2.0"/>
<circle cx="816.85" cy="177.10" r="2.0"/>
<circle cx="822.50" cy="177.10" r="2.0"/>
<circle cx="828.15" cy="177.10" r="2.0"/>
<circle cx="833.80" cy="177.10" r="2.0"/>
<circle cx="839.45" cy="177.10" r="2.0"/>
<circle cx="845.10" cy="177.10" r="2.0"/>
<circle cx="850.75" cy="177.10" r="2.0"/>
<circle cx="856.40" cy="177.10" r="2.0"/>
<circle cx="862.05" cy="177.10" r="2.0"/>
<circle cx="867.70" cy="177.10" r="2.0"/>
<circle cx="873.35" cy="177.10" r="2.0"/>
<circle cx="879.00" cy="177.10" r="2.0"/>
<circle cx="884.65" cy="177.10" r="2.0"/>
<circle cx="890.30" cy="177.10" r="2.0"/>
<circle cx="895.95" cy="177.10" r="2.0"/>
<circle cx="901.60" cy="177.10" r="2.0"/>
<circle cx="907.25" cy="177.10" r="2.0"/>
<circle cx="912.90" cy="177.10" r="2.0"/>
<circle cx="918.55" cy="177.10" r="2.0"/>
<circle cx="924.20" cy="177.10" r="2.0"/>
<circle cx="929.85" cy="177.10" r="2.0"/>
<circle cx="935.50" cy="177.10" r="2.0"/>
<circle cx="941.15" cy="177.10" r="2.0"/>
<circle cx="946.80" cy="177.10" r="2.0"/>
<circle cx="952.45" cy="177.10" r="2.0"/>
<circle cx="958.10" cy="177.10" r="2.0"/>
<circle cx="963.75" cy="177.10" r="2.0"/>
<circle cx="969.40" cy="177.10" r="2.0"/>
<circle cx="975.05" cy="177.10" r="2.0"/>
<circle cx="980.70" cy="177.10" r="2.0"/>
<circle cx="986.35" cy="177.10" r="2.0"/>
<circle cx="992.00" cy="177.10" r="2.0"/>
<circle cx="997.65" cy="177.10" r="2.0"/>
<circle cx="1003.30" cy="177.10" r="2.0"/>
<circle cx="1008.95" cy="177.10" r="2.0"/>
<circle cx="1014.60" cy="177.10" r="2.0"/>
<circle cx="1020.25" cy="177.10" r="2.0"/>
<circle cx="1025.90" cy="177.10" r="2.0"/>
<circle cx="1031.55" cy="177.10" r="2.0"/>
<circle cx="1037.20" cy="177.10" r="2.0"/>
<circle cx="1042.85" cy="177.10" r="2.0"/>
<circle cx="1048.50" cy="177.10" r="2.0"/>
<circle cx="1054.15" cy="177.10" r="2.0"/>
<circle cx="1059.80" cy="177.10" r="2.0"/>
<circle cx="1065.45" cy="177.10" r="2.0"/>
<circle cx="1071.10" cy="177.10" r="2.0"/>
<circle cx="1076.75" cy="177.10" r="2.0"/>
<circle cx="1082.40" cy="177.10" r="2.0"/>
<circle cx="1088.05" cy="177.10" r="2.0"/>
<circle cx="1093.70" cy="177.10" r="2.0"/>
<circle cx="1099.35" cy="177.10" r="2.0"/>
<circle cx="1105.00" cy="177.10" r="2.0"/>
<circle cx="1110.65" cy="177.10" r="2.0"/>
<circle cx="1116.30" cy="177.10" r="2.0"/>
<circle cx="1121.95" cy="177.10" r="2.0"/>
<circle cx="940.72" cy="153.57" r="2.0"/>
<circle cx="935.12" cy="154.31" r="2.0"/>
<circle cx="929.52" cy="155.05" r="2.0"/>
<circle cx="923.92" cy="155.79" r="2.0"/>
<circle cx="918.32" cy="156.53" r="2.0"/>
<circle cx="912.72" cy="157.26" r="2.0"/>
<circle cx="907.12" cy="158.00" r="2.0"/>
<circle cx="901.51" cy="158.74" r="2.0"/>
<circle cx="895.91" cy="159.48" r="2.0"/>
<circle cx="890.31" cy="160.22" r="2.0"/>
<circle cx="884.71" cy="160.96" r="2.0"/>
<circle cx="879.11" cy="161.70" r="2.0"/>
<circle cx="873.51" cy="162.44" r="2.0"/>
<circle cx="867.91" cy="163.18" r="2.0"/>
<circle cx="862.30" cy="163.92" r="2.0"/>
<circle cx="856.70" cy="164.66" r="2.0"/>
<circle cx="851.10" cy="165.40" r="2.0"/>
<circle cx="845.50" cy="166.14" r="2.0"/>
<circle cx="839.90" cy="166.88" r="2.0"/>
<circle cx="834.30" cy="167.62" r="2.0"/>
<circle cx="828.70" cy="168.36" r="2.0"/>
<circle cx="823.10" cy="169.10" r="2.0"/>
<circle cx="817.49" cy="169.84" r="2.0"/>
<circle cx="811.89" cy="170.58" r="2.0"/>
<circle cx="806.29" cy="171.32" r="2.0"/>
<circle cx="800.69" cy="172.06" r="2.0"/>
<circle cx="795.09" cy="172.80" r="2.0"/>
<circle cx="789.49" cy="173.54" r="2.0"/>
<circle cx="783.89" cy="174.28" r="2.0"/>
<circle cx="778.28" cy="175.02" r="2.0"/>
<circle cx="772.68" cy="175.76" r="2.0"/>
<circle cx="767.08" cy="176.50" r="2.0"/>
<circle cx="946.28" cy="153.56" r="2.0"/>
<circle cx="951.88" cy="154.30" r="2.0"/>
<circle cx="957.48" cy="155.03" r="2.0"/>
<circle cx="963.08" cy="155.77" r="2.0"/>
<circle cx="968.68" cy="156.50" r="2.0"/>
<circle cx="974.29" cy="157.24" r="2.0"/>
<circle cx="979.89" cy="157.97" r="2.0"/>
<circle cx="985.49" cy="158.71" r="2.0"/>
<circle cx="991.09" cy="159.44" r="2.0"/>
<circle cx="996.69" cy="160.18" r="2.0"/>
<circle cx="1002.30" cy="160.91" r="2.0"/>
<circle cx="1007.90" cy="161.65" r="2.0"/>
<circle cx="1013.50" cy="162.38" r="2.0"/>
<circle cx="1019.10" cy="163.12" r="2.0"/>
<circle cx="1024.70" cy="163.85" r="2.0"/>
<circle cx="1030.31" cy="164.59" r="2.0"/>
<circle cx="1035.91" cy="165.32" r="2.0"/>
<circle cx="1041.51" cy="166.06" r="2.0"/>
<circle cx="1047.11" cy="166.79" r="2.0"/>
<circle cx="1052.71" cy="167.53" r="2.0"/>
<circle cx="1058.32" cy="168.26" r="2.0"/>
<circle cx="1063.92" cy="169.00" r="2.0"/>
<circle cx="1069.52" cy="169.73" r="2.0"/>
<circle cx="1075.12" cy="170.47" r="2.0"/>
<circle cx="1080.72" cy="171.20" r="2.0"/>
<circle cx="1086.33" cy="171.94" r="2.0"/>
<circle cx="1091.93" cy="172.67" r="2.0"/>
<circle cx="1097.53" cy="173.40" r="2.0"/>
<circle cx="1103.13" cy="174.14" r="2.0"/>
<circle cx="1108.73" cy="174.87" r="2.0"/>
<circle cx="1114.34" cy="175.61" r="2.0"/>
<circle cx="1119.94" cy="176.34" r="2.0"/>
<circle cx="1125.54" cy="177.08" r="2.0"/>
</g>
</g>
<rect x="760.40" y="100.90" width="366.40" height="353.20" fill="none" stroke="#000" stroke-width="2.2"/>
<line x1="761.00" y1="101.30" x2="767.30" y2="101.30" stroke="#000" stroke-width="2"/>
<text x="752.90" y="107.10" text-anchor="end" style="font-family:'Liberation Serif',serif;font-weight:bold;font-size:21.5px">6</text>
<line x1="761.00" y1="151.60" x2="767.30" y2="151.60" stroke="#000" stroke-width="2"/>
<text x="752.90" y="157.40" text-anchor="end" style="font-family:'Liberation Serif',serif;font-weight:bold;font-size:21.5px">4</text>
<line x1="761.00" y1="201.90" x2="767.30" y2="201.90" stroke="#000" stroke-width="2"/>
<text x="752.90" y="207.70" text-anchor="end" style="font-family:'Liberation Serif',serif;font-weight:bold;font-size:21.5px">2</text>
<line x1="761.00" y1="252.20" x2="767.30" y2="252.20" stroke="#000" stroke-width="2"/>
<text x="752.90" y="258.00" text-anchor="end" style="font-family:'Liberation Serif',serif;font-weight:bold;font-size:21.5px">0</text>
<line x1="761.00" y1="302.50" x2="767.30" y2="302.50" stroke="#000" stroke-width="2"/>
<text x="752.90" y="308.30" text-anchor="end" style="font-family:'Liberation Serif',serif;font-weight:bold;font-size:21.5px"><tspan dy="0.5" style="font-weight:normal;font-size:18.5px">−</tspan><tspan dy="-0.5">2</tspan></text>
<line x1="761.00" y1="352.80" x2="767.30" y2="352.80" stroke="#000" stroke-width="2"/>
<text x="752.90" y="358.60" text-anchor="end" style="font-family:'Liberation Serif',serif;font-weight:bold;font-size:21.5px"><tspan dy="0.5" style="font-weight:normal;font-size:18.5px">−</tspan><tspan dy="-0.5">4</tspan></text>
<line x1="761.00" y1="403.10" x2="767.30" y2="403.10" stroke="#000" stroke-width="2"/>
<text x="752.90" y="408.90" text-anchor="end" style="font-family:'Liberation Serif',serif;font-weight:bold;font-size:21.5px"><tspan dy="0.5" style="font-weight:normal;font-size:18.5px">−</tspan><tspan dy="-0.5">6</tspan></text>
<line x1="761.00" y1="453.40" x2="767.30" y2="453.40" stroke="#000" stroke-width="2"/>
<text x="752.90" y="459.20" text-anchor="end" style="font-family:'Liberation Serif',serif;font-weight:bold;font-size:21.5px"><tspan dy="0.5" style="font-weight:normal;font-size:18.5px">−</tspan><tspan dy="-0.5">8</tspan></text>
<line x1="779.20" y1="453.50" x2="779.20" y2="447.20" stroke="#000" stroke-width="2"/>
<text x="777.20" y="477.60" text-anchor="middle" style="font-family:'Liberation Serif',serif;font-weight:bold;font-size:21.5px"><tspan dy="1.0" style="font-weight:normal;font-size:18.5px">−</tspan><tspan dy="-1.0">0.1</tspan></text>
<line x1="861.60" y1="453.50" x2="861.60" y2="447.20" stroke="#000" stroke-width="2"/>
<text x="859.60" y="477.60" text-anchor="middle" style="font-family:'Liberation Serif',serif;font-weight:bold;font-size:21.5px"><tspan dy="1.0" style="font-weight:normal;font-size:18.5px">−</tspan><tspan dy="-1.0">0.05</tspan></text>
<line x1="944.00" y1="453.50" x2="944.00" y2="447.20" stroke="#000" stroke-width="2"/>
<text x="944.00" y="477.60" text-anchor="middle" style="font-family:'Liberation Serif',serif;font-weight:bold;font-size:21.5px">0</text>
<line x1="1026.40" y1="453.50" x2="1026.40" y2="447.20" stroke="#000" stroke-width="2"/>
<text x="1026.40" y="477.60" text-anchor="middle" style="font-family:'Liberation Serif',serif;font-weight:bold;font-size:21.5px">0.05</text>
<line x1="1108.80" y1="453.50" x2="1108.80" y2="447.20" stroke="#000" stroke-width="2"/>
<text x="1108.80" y="477.60" text-anchor="middle" style="font-family:'Liberation Serif',serif;font-weight:bold;font-size:21.5px">0.1</text>
<text x="943.30" y="511.40" text-anchor="middle" style="font-family:'Liberation Serif',serif;font-weight:bold;font-size:26.3px">X(μm)</text>
<text transform="translate(715.70,276.90) rotate(-90)" x="0" y="0" text-anchor="middle" style="font-family:'Liberation Serif',serif;font-weight:bold;font-size:26.6px">Y(μm)</text>
<text transform="translate(967.80,58.80) scale(1,1.045)" x="0" y="0" text-anchor="middle" style="font-family:'Liberation Serif',serif;font-weight:bold;font-size:57.4px">λ= 1.084 μm</text>
<text x="639.60" y="132.00" style="font-family:'Liberation Serif',serif;font-weight:bold;font-size:58.5px">(b)</text>
<rect x="1141.90" y="106.60" width="41.10" height="11.73" fill="#FF0000"/>
<rect x="1141.90" y="117.93" width="41.10" height="11.73" fill="#FF1400"/>
<rect x="1141.90" y="129.25" width="41.10" height="11.73" fill="#FF2E00"/>
<rect x="1141.90" y="140.58" width="41.10" height="11.73" fill="#FF4A00"/>
<rect x="1141.90" y="151.91" width="41.10" height="11.73" fill="#FF6400"/>
<rect x="1141.90" y="163.23" width="41.10" height="11.73" fill="#FF8200"/>
<rect x="1141.90" y="174.56" width="41.10" height="11.73" fill="#FFA000"/>
<rect x="1141.90" y="185.89" width="41.10" height="11.73" fill="#FFC800"/>
<rect x="1141.90" y="197.21" width="41.10" height="11.73" fill="#FFE600"/>
<rect x="1141.90" y="208.54" width="41.10" height="11.73" fill="#C8FF00"/>
<rect x="1141.90" y="219.87" width="41.10" height="11.73" fill="#46FF00"/>
<rect x="1141.90" y="231.19" width="41.10" height="11.73" fill="#00FF00"/>
<rect x="1141.90" y="242.52" width="41.10" height="11.73" fill="#00FF00"/>
<rect x="1141.90" y="253.85" width="41.10" height="11.73" fill="#00FF00"/>
<rect x="1141.90" y="265.17" width="41.10" height="11.73" fill="#00FF48"/>
<rect x="1141.90" y="276.50" width="41.10" height="11.73" fill="#00FF90"/>
<rect x="1141.90" y="287.83" width="41.10" height="11.73" fill="#00FFD8"/>
<rect x="1141.90" y="299.15" width="41.10" height="11.73" fill="#00FFFF"/>
<rect x="1141.90" y="310.48" width="41.10" height="11.73" fill="#00D8FF"/>
<rect x="1141.90" y="321.81" width="41.10" height="11.73" fill="#00B4FF"/>
<rect x="1141.90" y="333.13" width="41.10" height="11.73" fill="#0096FF"/>
<rect x="1141.90" y="344.46" width="41.10" height="11.73" fill="#0078FF"/>
<rect x="1141.90" y="355.79" width="41.10" height="11.73" fill="#0058FF"/>
<rect x="1141.90" y="367.11" width="41.10" height="11.73" fill="#0036FF"/>
<rect x="1141.90" y="378.44" width="41.10" height="11.73" fill="#3200FF"/>
<rect x="1141.90" y="389.77" width="41.10" height="11.73" fill="#4A00FF"/>
<rect x="1141.90" y="401.09" width="41.10" height="11.73" fill="#6000FF"/>
<rect x="1141.90" y="412.42" width="41.10" height="11.73" fill="#7A00FF"/>
<rect x="1141.90" y="423.75" width="41.10" height="11.73" fill="#9C00FF"/>
<rect x="1141.90" y="435.07" width="41.10" height="11.73" fill="#B800FF"/>
<rect x="1142.30" y="107.00" width="41.10" height="339.00" fill="none" stroke="#000" stroke-opacity="0.5" stroke-width="1"/>
<line x1="1184.00" y1="105.60" x2="1184.00" y2="447.40" stroke="#000" stroke-width="2.2"/>
<line x1="1183.00" y1="106.60" x2="1190.50" y2="106.60" stroke="#000" stroke-width="2"/>
<text x="1196.70" y="111.30" style="font-family:'Liberation Serif',serif;font-weight:bold;font-size:16px">2.000</text>
<line x1="1183.00" y1="174.56" x2="1190.50" y2="174.56" stroke="#000" stroke-width="2"/>
<text x="1196.70" y="179.26" style="font-family:'Liberation Serif',serif;font-weight:bold;font-size:16px">1.673</text>
<line x1="1183.00" y1="242.52" x2="1190.50" y2="242.52" stroke="#000" stroke-width="2"/>
<text x="1196.70" y="247.22" style="font-family:'Liberation Serif',serif;font-weight:bold;font-size:16px">1.346</text>
<line x1="1183.00" y1="310.48" x2="1190.50" y2="310.48" stroke="#000" stroke-width="2"/>
<text x="1196.70" y="315.18" style="font-family:'Liberation Serif',serif;font-weight:bold;font-size:16px">1.019</text>
<line x1="1183.00" y1="378.44" x2="1190.50" y2="378.44" stroke="#000" stroke-width="2"/>
<text x="1196.70" y="383.14" style="font-family:'Liberation Serif',serif;font-weight:bold;font-size:16px">0.6920</text>
<line x1="1183.00" y1="446.40" x2="1190.50" y2="446.40" stroke="#000" stroke-width="2"/>
<text x="1196.70" y="451.10" style="font-family:'Liberation Serif',serif;font-weight:bold;font-size:16px">0.3650</text>
<text x="1126.00" y="95.00" style="font-family:'Liberation Serif',serif;font-weight:bold;font-size:38px">V/m</text>
<clipPath id="clipc"><rect x="124.80" y="643.00" width="366.40" height="353.30"/></clipPath>
<g clip-path="url(#clipc)">
<g filter="url(#soft)">
<rect x="123.70" y="640.00" width="368.60" height="5.85" fill="#00FF48"/>
<rect x="123.70" y="645.70" width="368.60" height="1.25" fill="#0036FF"/>
<rect x="123.70" y="646.80" width="368.60" height="2.05" fill="#4A00FF"/>
<rect x="123.70" y="648.70" width="368.60" height="2.35" fill="#00FFD8"/>
<rect x="123.70" y="650.90" width="368.60" height="1.25" fill="#00FF00"/>
<rect x="123.70" y="652.00" width="368.60" height="2.05" fill="#FFC800"/>
<rect x="123.70" y="653.90" width="368.60" height="1.25" fill="#00FF00"/>
<rect x="123.70" y="655.00" width="368.60" height="1.55" fill="#00FFFF"/>
<rect x="123.70" y="656.40" width="368.60" height="2.75" fill="#7A00FF"/>
<rect x="123.70" y="659.00" width="368.60" height="0.95" fill="#0078FF"/>
<rect x="123.70" y="659.80" width="368.60" height="1.25" fill="#00FF00"/>
<rect x="123.70" y="660.90" width="368.60" height="3.15" fill="#FFE600"/>
<rect x="123.70" y="663.90" width="368.60" height="1.95" fill="#00FF00"/>
<rect x="123.70" y="665.70" width="368.60" height="1.65" fill="#0096FF"/>
<rect x="123.70" y="667.20" width="368.60" height="1.95" fill="#B800FF"/>
<rect x="123.70" y="669.00" width="368.60" height="2.05" fill="#00D8FF"/>
<rect x="123.70" y="670.90" width="368.60" height="1.25" fill="#00FF00"/>
<rect x="123.70" y="672.00" width="368.60" height="2.75" fill="#FFE600"/>
<rect x="123.70" y="674.60" width="368.60" height="2.05" fill="#C8FF00"/>
<rect x="123.70" y="676.50" width="368.60" height="1.25" fill="#00FF48"/>
<rect x="123.70" y="677.60" width="368.60" height="3.05" fill="#4A00FF"/>
<rect x="123.70" y="680.50" width="368.60" height="1.55" fill="#00FFD8"/>
<rect x="123.70" y="681.90" width="368.60" height="1.55" fill="#00FF00"/>
<rect x="123.70" y="683.30" width="368.60" height="2.45" fill="#FFC800"/>
<rect x="123.70" y="685.60" width="368.60" height="1.55" fill="#00FF00"/>
<rect x="123.70" y="687.00" width="368.60" height="1.25" fill="#00FFFF"/>
<rect x="123.70" y="688.10" width="368.60" height="2.45" fill="#6000FF"/>
<rect x="123.70" y="690.40" width="368.60" height="1.25" fill="#0058FF"/>
<rect x="123.70" y="691.50" width="368.60" height="1.95" fill="#00FF00"/>
<rect x="123.70" y="693.30" width="368.60" height="3.15" fill="#FFE600"/>
<rect x="123.70" y="696.30" width="368.60" height="1.95" fill="#00FF00"/>
<rect x="123.70" y="698.10" width="368.60" height="1.35" fill="#00FFFF"/>
<rect x="123.70" y="699.30" width="368.60" height="1.95" fill="#3200FF"/>
<rect x="123.70" y="701.10" width="368.60" height="18.25" fill="#00D8FF"/>
<rect x="123.70" y="719.20" width="368.60" height="3.95" fill="#00D8FF"/>
<rect x="123.70" y="723.00" width="368.60" height="0.95" fill="#0058FF"/>
<rect x="123.70" y="723.80" width="368.60" height="2.35" fill="#6000FF"/>
<rect x="123.70" y="726.00" width="368.60" height="3.15" fill="#0078FF"/>
<rect x="123.70" y="729.00" width="368.60" height="3.05" fill="#7A00FF"/>
<rect x="123.70" y="731.90" width="368.60" height="3.85" fill="#3200FF"/>
<rect x="123.70" y="735.60" width="368.60" height="3.55" fill="#9C00FF"/>
<rect x="123.70" y="739.00" width="368.60" height="2.75" fill="#6000FF"/>
<rect x="123.70" y="741.60" width="368.60" height="3.45" fill="#B800FF"/>
<rect x="123.70" y="744.90" width="368.60" height="6.85" fill="#9C00FF"/>
<rect x="123.70" y="751.60" width="368.60" height="2.55" fill="#B800FF"/>
<rect x="123.70" y="754.00" width="368.60" height="2.35" fill="#9C00FF"/>
<rect x="123.70" y="756.20" width="368.60" height="3.55" fill="#B800FF"/>
<rect x="123.70" y="759.60" width="368.60" height="1.95" fill="#9C00FF"/>
<rect x="123.70" y="761.40" width="368.60" height="238.75" fill="#B800FF"/>
<rect x="123.70" y="701.10" width="37.80" height="2.05" fill="#00D8FF"/>
<rect x="123.70" y="703.00" width="37.80" height="3.85" fill="#FF2E00"/>
<rect x="123.70" y="706.70" width="37.80" height="2.35" fill="#00FF90"/>
<rect x="123.70" y="708.90" width="37.80" height="1.95" fill="#3200FF"/>
<rect x="123.70" y="710.70" width="37.80" height="4.25" fill="#FF2E00"/>
<rect x="123.70" y="714.80" width="37.80" height="2.05" fill="#46FF00"/>
<rect x="123.70" y="716.70" width="37.80" height="2.65" fill="#00FFFF"/>
<rect x="454.90" y="701.10" width="37.40" height="2.05" fill="#00D8FF"/>
<rect x="454.90" y="703.00" width="37.40" height="3.85" fill="#FF2E00"/>
<rect x="454.90" y="706.70" width="37.40" height="2.35" fill="#00FF90"/>
<rect x="454.90" y="708.90" width="37.40" height="1.95" fill="#3200FF"/>
<rect x="454.90" y="710.70" width="37.40" height="4.25" fill="#FF2E00"/>
<rect x="454.90" y="714.80" width="37.40" height="2.05" fill="#46FF00"/>
<rect x="454.90" y="716.70" width="37.40" height="2.65" fill="#00FFFF"/>
<rect x="161.50" y="701.10" width="36.67" height="2.05" fill="#00D8FF"/>
<rect x="161.50" y="703.00" width="36.67" height="3.85" fill="#FF2E00"/>
<rect x="161.50" y="706.70" width="36.67" height="2.35" fill="#00FF90"/>
<rect x="161.50" y="708.90" width="36.67" height="1.95" fill="#3200FF"/>
<rect x="161.50" y="710.70" width="36.67" height="4.25" fill="#FFE600"/>
<rect x="161.50" y="714.80" width="36.67" height="2.05" fill="#00FF00"/>
<rect x="161.50" y="716.70" width="36.67" height="2.65" fill="#00FFFF"/>
<rect x="418.22" y="701.10" width="36.67" height="2.05" fill="#00D8FF"/>
<rect x="418.22" y="703.00" width="36.67" height="3.85" fill="#FF2E00"/>
<rect x="418.22" y="706.70" width="36.67" height="2.35" fill="#00FF90"/>
<rect x="418.22" y="708.90" width="36.67" height="1.95" fill="#3200FF"/>
<rect x="418.22" y="710.70" width="36.67" height="4.25" fill="#FFE600"/>
<rect x="418.22" y="714.80" width="36.67" height="2.05" fill="#00FF00"/>
<rect x="418.22" y="716.70" width="36.67" height="2.65" fill="#00FFFF"/>
<rect x="198.18" y="701.10" width="36.67" height="2.05" fill="#00D8FF"/>
<rect x="198.18" y="703.00" width="36.67" height="3.85" fill="#FF2E00"/>
<rect x="198.18" y="706.70" width="36.67" height="1.25" fill="#00FF90"/>
<rect x="198.18" y="707.80" width="36.67" height="3.65" fill="#3200FF"/>
<rect x="198.18" y="711.30" width="36.67" height="1.75" fill="#00B4FF"/>
<rect x="198.18" y="712.90" width="36.67" height="2.05" fill="#00FF90"/>
<rect x="198.18" y="714.80" width="36.67" height="2.85" fill="#00FFFF"/>
<rect x="198.18" y="717.50" width="36.67" height="1.85" fill="#7A00FF"/>
<rect x="381.55" y="701.10" width="36.67" height="2.05" fill="#00D8FF"/>
<rect x="381.55" y="703.00" width="36.67" height="3.85" fill="#FF2E00"/>
<rect x="381.55" y="706.70" width="36.67" height="1.25" fill="#00FF90"/>
<rect x="381.55" y="707.80" width="36.67" height="3.65" fill="#3200FF"/>
<rect x="381.55" y="711.30" width="36.67" height="1.75" fill="#00B4FF"/>
<rect x="381.55" y="712.90" width="36.67" height="2.05" fill="#00FF90"/>
<rect x="381.55" y="714.80" width="36.67" height="2.85" fill="#00FFFF"/>
<rect x="381.55" y="717.50" width="36.67" height="1.85" fill="#7A00FF"/>
<rect x="234.85" y="698.80" width="36.67" height="2.05" fill="#3200FF"/>
<rect x="234.85" y="700.70" width="36.67" height="2.05" fill="#0078FF"/>
<rect x="234.85" y="702.60" width="36.67" height="4.55" fill="#00FF00"/>
<rect x="234.85" y="707.00" width="36.67" height="2.15" fill="#0078FF"/>
<rect x="234.85" y="709.00" width="36.67" height="2.65" fill="#4A00FF"/>
<rect x="234.85" y="711.50" width="36.67" height="3.95" fill="#00FFFF"/>
<rect x="234.85" y="715.30" width="36.67" height="2.05" fill="#00B4FF"/>
<rect x="234.85" y="717.20" width="36.67" height="2.15" fill="#7A00FF"/>
<rect x="344.87" y="698.80" width="36.67" height="2.05" fill="#3200FF"/>
<rect x="344.87" y="700.70" width="36.67" height="2.05" fill="#0078FF"/>
<rect x="344.87" y="702.60" width="36.67" height="4.55" fill="#00FF00"/>
<rect x="344.87" y="707.00" width="36.67" height="2.15" fill="#0078FF"/>
<rect x="344.87" y="709.00" width="36.67" height="2.65" fill="#4A00FF"/>
<rect x="344.87" y="711.50" width="36.67" height="3.95" fill="#00FFFF"/>
<rect x="344.87" y="715.30" width="36.67" height="2.05" fill="#00B4FF"/>
<rect x="344.87" y="717.20" width="36.67" height="2.15" fill="#7A00FF"/>
<rect x="271.53" y="696.00" width="73.35" height="3.05" fill="#00FFFF"/>
<rect x="271.53" y="698.90" width="73.35" height="2.65" fill="#7A00FF"/>
<rect x="271.53" y="701.40" width="73.35" height="4.25" fill="#0058FF"/>
<rect x="271.53" y="705.50" width="73.35" height="2.35" fill="#0096FF"/>
<rect x="271.53" y="707.70" width="73.35" height="1.45" fill="#0036FF"/>
<rect x="271.53" y="709.00" width="73.35" height="2.05" fill="#6000FF"/>
<rect x="271.53" y="710.90" width="73.35" height="2.05" fill="#00D8FF"/>
<rect x="271.53" y="712.80" width="73.35" height="2.65" fill="#00FF90"/>
<rect x="271.53" y="715.30" width="73.35" height="2.05" fill="#00B4FF"/>
<rect x="271.53" y="717.20" width="73.35" height="2.15" fill="#7A00FF"/>
</g>
<g fill="#000" filter="url(#dsoft)">
<circle cx="130.40" cy="794.70" r="2.0"/>
<circle cx="136.05" cy="794.70" r="2.0"/>
<circle cx="141.70" cy="794.70" r="2.0"/>
<circle cx="147.35" cy="794.70" r="2.0"/>
<circle cx="153.00" cy="794.70" r="2.0"/>
<circle cx="158.65" cy="794.70" r="2.0"/>
<circle cx="164.30" cy="794.70" r="2.0"/>
<circle cx="169.95" cy="794.70" r="2.0"/>
<circle cx="175.60" cy="794.70" r="2.0"/>
<circle cx="181.25" cy="794.70" r="2.0"/>
<circle cx="186.90" cy="794.70" r="2.0"/>
<circle cx="192.55" cy="794.70" r="2.0"/>
<circle cx="198.20" cy="794.70" r="2.0"/>
<circle cx="203.85" cy="794.70" r="2.0"/>
<circle cx="209.50" cy="794.70" r="2.0"/>
<circle cx="215.15" cy="794.70" r="2.0"/>
<circle cx="220.80" cy="794.70" r="2.0"/>
<circle cx="226.45" cy="794.70" r="2.0"/>
<circle cx="232.10" cy="794.70" r="2.0"/>
<circle cx="237.75" cy="794.70" r="2.0"/>
<circle cx="243.40" cy="794.70" r="2.0"/>
<circle cx="249.05" cy="794.70" r="2.0"/>
<circle cx="254.70" cy="794.70" r="2.0"/>
<circle cx="260.35" cy="794.70" r="2.0"/>
<circle cx="266.00" cy="794.70" r="2.0"/>
<circle cx="271.65" cy="794.70" r="2.0"/>
<circle cx="277.30" cy="794.70" r="2.0"/>
<circle cx="282.95" cy="794.70" r="2.0"/>
<circle cx="288.60" cy="794.70" r="2.0"/>
<circle cx="294.25" cy="794.70" r="2.0"/>
<circle cx="299.90" cy="794.70" r="2.0"/>
<circle cx="305.55" cy="794.70" r="2.0"/>
<circle cx="311.20" cy="794.70" r="2.0"/>
<circle cx="316.85" cy="794.70" r="2.0"/>
<circle cx="322.50" cy="794.70" r="2.0"/>
<circle cx="328.15" cy="794.70" r="2.0"/>
<circle cx="333.80" cy="794.70" r="2.0"/>
<circle cx="339.45" cy="794.70" r="2.0"/>
<circle cx="345.10" cy="794.70" r="2.0"/>
<circle cx="350.75" cy="794.70" r="2.0"/>
<circle cx="356.40" cy="794.70" r="2.0"/>
<circle cx="362.05" cy="794.70" r="2.0"/>
<circle cx="367.70" cy="794.70" r="2.0"/>
<circle cx="373.35" cy="794.70" r="2.0"/>
<circle cx="379.00" cy="794.70" r="2.0"/>
<circle cx="384.65" cy="794.70" r="2.0"/>
<circle cx="390.30" cy="794.70" r="2.0"/>
<circle cx="395.95" cy="794.70" r="2.0"/>
<circle cx="401.60" cy="794.70" r="2.0"/>
<circle cx="407.25" cy="794.70" r="2.0"/>
<circle cx="412.90" cy="794.70" r="2.0"/>
<circle cx="418.55" cy="794.70" r="2.0"/>
<circle cx="424.20" cy="794.70" r="2.0"/>
<circle cx="429.85" cy="794.70" r="2.0"/>
<circle cx="435.50" cy="794.70" r="2.0"/>
<circle cx="441.15" cy="794.70" r="2.0"/>
<circle cx="446.80" cy="794.70" r="2.0"/>
<circle cx="452.45" cy="794.70" r="2.0"/>
<circle cx="458.10" cy="794.70" r="2.0"/>
<circle cx="463.75" cy="794.70" r="2.0"/>
<circle cx="469.40" cy="794.70" r="2.0"/>
<circle cx="475.05" cy="794.70" r="2.0"/>
<circle cx="480.70" cy="794.70" r="2.0"/>
<circle cx="486.35" cy="794.70" r="2.0"/>
<circle cx="130.40" cy="719.20" r="2.0"/>
<circle cx="136.05" cy="719.20" r="2.0"/>
<circle cx="141.70" cy="719.20" r="2.0"/>
<circle cx="147.35" cy="719.20" r="2.0"/>
<circle cx="153.00" cy="719.20" r="2.0"/>
<circle cx="158.65" cy="719.20" r="2.0"/>
<circle cx="164.30" cy="719.20" r="2.0"/>
<circle cx="169.95" cy="719.20" r="2.0"/>
<circle cx="175.60" cy="719.20" r="2.0"/>
<circle cx="181.25" cy="719.20" r="2.0"/>
<circle cx="186.90" cy="719.20" r="2.0"/>
<circle cx="192.55" cy="719.20" r="2.0"/>
<circle cx="198.20" cy="719.20" r="2.0"/>
<circle cx="203.85" cy="719.20" r="2.0"/>
<circle cx="209.50" cy="719.20" r="2.0"/>
<circle cx="215.15" cy="719.20" r="2.0"/>
<circle cx="220.80" cy="719.20" r="2.0"/>
<circle cx="226.45" cy="719.20" r="2.0"/>
<circle cx="232.10" cy="719.20" r="2.0"/>
<circle cx="237.75" cy="719.20" r="2.0"/>
<circle cx="243.40" cy="719.20" r="2.0"/>
<circle cx="249.05" cy="719.20" r="2.0"/>
<circle cx="254.70" cy="719.20" r="2.0"/>
<circle cx="260.35" cy="719.20" r="2.0"/>
<circle cx="266.00" cy="719.20" r="2.0"/>
<circle cx="271.65" cy="719.20" r="2.0"/>
<circle cx="277.30" cy="719.20" r="2.0"/>
<circle cx="282.95" cy="719.20" r="2.0"/>
<circle cx="288.60" cy="719.20" r="2.0"/>
<circle cx="294.25" cy="719.20" r="2.0"/>
<circle cx="299.90" cy="719.20" r="2.0"/>
<circle cx="305.55" cy="719.20" r="2.0"/>
<circle cx="311.20" cy="719.20" r="2.0"/>
<circle cx="316.85" cy="719.20" r="2.0"/>
<circle cx="322.50" cy="719.20" r="2.0"/>
<circle cx="328.15" cy="719.20" r="2.0"/>
<circle cx="333.80" cy="719.20" r="2.0"/>
<circle cx="339.45" cy="719.20" r="2.0"/>
<circle cx="345.10" cy="719.20" r="2.0"/>
<circle cx="350.75" cy="719.20" r="2.0"/>
<circle cx="356.40" cy="719.20" r="2.0"/>
<circle cx="362.05" cy="719.20" r="2.0"/>
<circle cx="367.70" cy="719.20" r="2.0"/>
<circle cx="373.35" cy="719.20" r="2.0"/>
<circle cx="379.00" cy="719.20" r="2.0"/>
<circle cx="384.65" cy="719.20" r="2.0"/>
<circle cx="390.30" cy="719.20" r="2.0"/>
<circle cx="395.95" cy="719.20" r="2.0"/>
<circle cx="401.60" cy="719.20" r="2.0"/>
<circle cx="407.25" cy="719.20" r="2.0"/>
<circle cx="412.90" cy="719.20" r="2.0"/>
<circle cx="418.55" cy="719.20" r="2.0"/>
<circle cx="424.20" cy="719.20" r="2.0"/>
<circle cx="429.85" cy="719.20" r="2.0"/>
<circle cx="435.50" cy="719.20" r="2.0"/>
<circle cx="441.15" cy="719.20" r="2.0"/>
<circle cx="446.80" cy="719.20" r="2.0"/>
<circle cx="452.45" cy="719.20" r="2.0"/>
<circle cx="458.10" cy="719.20" r="2.0"/>
<circle cx="463.75" cy="719.20" r="2.0"/>
<circle cx="469.40" cy="719.20" r="2.0"/>
<circle cx="475.05" cy="719.20" r="2.0"/>
<circle cx="480.70" cy="719.20" r="2.0"/>
<circle cx="486.35" cy="719.20" r="2.0"/>
<circle cx="305.92" cy="696.16" r="2.0"/>
<circle cx="300.32" cy="696.88" r="2.0"/>
<circle cx="294.72" cy="697.60" r="2.0"/>
<circle cx="289.11" cy="698.32" r="2.0"/>
<circle cx="283.51" cy="699.04" r="2.0"/>
<circle cx="277.90" cy="699.76" r="2.0"/>
<circle cx="272.30" cy="700.49" r="2.0"/>
<circle cx="266.70" cy="701.21" r="2.0"/>
<circle cx="261.09" cy="701.93" r="2.0"/>
<circle cx="255.49" cy="702.65" r="2.0"/>
<circle cx="249.89" cy="703.37" r="2.0"/>
<circle cx="244.28" cy="704.09" r="2.0"/>
<circle cx="238.68" cy="704.81" r="2.0"/>
<circle cx="233.07" cy="705.53" r="2.0"/>
<circle cx="227.47" cy="706.26" r="2.0"/>
<circle cx="221.87" cy="706.98" r="2.0"/>
<circle cx="216.26" cy="707.70" r="2.0"/>
<circle cx="210.66" cy="708.42" r="2.0"/>
<circle cx="205.06" cy="709.14" r="2.0"/>
<circle cx="199.45" cy="709.86" r="2.0"/>
<circle cx="193.85" cy="710.58" r="2.0"/>
<circle cx="188.24" cy="711.30" r="2.0"/>
<circle cx="182.64" cy="712.03" r="2.0"/>
<circle cx="177.04" cy="712.75" r="2.0"/>
<circle cx="171.43" cy="713.47" r="2.0"/>
<circle cx="165.83" cy="714.19" r="2.0"/>
<circle cx="160.22" cy="714.91" r="2.0"/>
<circle cx="154.62" cy="715.63" r="2.0"/>
<circle cx="149.02" cy="716.35" r="2.0"/>
<circle cx="143.41" cy="717.07" r="2.0"/>
<circle cx="137.81" cy="717.80" r="2.0"/>
<circle cx="132.21" cy="718.52" r="2.0"/>
<circle cx="311.48" cy="696.16" r="2.0"/>
<circle cx="317.08" cy="696.88" r="2.0"/>
<circle cx="322.68" cy="697.60" r="2.0"/>
<circle cx="328.29" cy="698.33" r="2.0"/>
<circle cx="333.89" cy="699.05" r="2.0"/>
<circle cx="339.49" cy="699.77" r="2.0"/>
<circle cx="345.10" cy="700.50" r="2.0"/>
<circle cx="350.70" cy="701.22" r="2.0"/>
<circle cx="356.31" cy="701.94" r="2.0"/>
<circle cx="361.91" cy="702.66" r="2.0"/>
<circle cx="367.51" cy="703.39" r="2.0"/>
<circle cx="373.12" cy="704.11" r="2.0"/>
<circle cx="378.72" cy="704.83" r="2.0"/>
<circle cx="384.32" cy="705.56" r="2.0"/>
<circle cx="389.93" cy="706.28" r="2.0"/>
<circle cx="395.53" cy="707.00" r="2.0"/>
<circle cx="401.13" cy="707.72" r="2.0"/>
<circle cx="406.74" cy="708.45" r="2.0"/>
<circle cx="412.34" cy="709.17" r="2.0"/>
<circle cx="417.94" cy="709.89" r="2.0"/>
<circle cx="423.55" cy="710.62" r="2.0"/>
<circle cx="429.15" cy="711.34" r="2.0"/>
<circle cx="434.76" cy="712.06" r="2.0"/>
<circle cx="440.36" cy="712.78" r="2.0"/>
<circle cx="445.96" cy="713.51" r="2.0"/>
<circle cx="451.57" cy="714.23" r="2.0"/>
<circle cx="457.17" cy="714.95" r="2.0"/>
<circle cx="462.77" cy="715.67" r="2.0"/>
<circle cx="468.38" cy="716.40" r="2.0"/>
<circle cx="473.98" cy="717.12" r="2.0"/>
<circle cx="479.58" cy="717.84" r="2.0"/>
<circle cx="485.19" cy="718.57" r="2.0"/>
</g>
</g>
<rect x="124.80" y="643.00" width="366.40" height="353.30" fill="none" stroke="#000" stroke-width="2.2"/>
<line x1="125.40" y1="643.30" x2="131.70" y2="643.30" stroke="#000" stroke-width="2"/>
<text x="116.70" y="649.10" text-anchor="end" style="font-family:'Liberation Serif',serif;font-weight:bold;font-size:21.5px">6</text>
<line x1="125.40" y1="693.60" x2="131.70" y2="693.60" stroke="#000" stroke-width="2"/>
<text x="116.70" y="699.40" text-anchor="end" style="font-family:'Liberation Serif',serif;font-weight:bold;font-size:21.5px">4</text>
<line x1="125.40" y1="743.90" x2="131.70" y2="743.90" stroke="#000" stroke-width="2"/>
<text x="116.70" y="749.70" text-anchor="end" style="font-family:'Liberation Serif',serif;font-weight:bold;font-size:21.5px">2</text>
<line x1="125.40" y1="794.20" x2="131.70" y2="794.20" stroke="#000" stroke-width="2"/>
<text x="116.70" y="800.00" text-anchor="end" style="font-family:'Liberation Serif',serif;font-weight:bold;font-size:21.5px">0</text>
<line x1="125.40" y1="844.50" x2="131.70" y2="844.50" stroke="#000" stroke-width="2"/>
<text x="116.70" y="850.30" text-anchor="end" style="font-family:'Liberation Serif',serif;font-weight:bold;font-size:21.5px"><tspan dy="0.5" style="font-weight:normal;font-size:18.5px">−</tspan><tspan dy="-0.5">2</tspan></text>
<line x1="125.40" y1="894.80" x2="131.70" y2="894.80" stroke="#000" stroke-width="2"/>
<text x="116.70" y="900.60" text-anchor="end" style="font-family:'Liberation Serif',serif;font-weight:bold;font-size:21.5px"><tspan dy="0.5" style="font-weight:normal;font-size:18.5px">−</tspan><tspan dy="-0.5">4</tspan></text>
<line x1="125.40" y1="945.10" x2="131.70" y2="945.10" stroke="#000" stroke-width="2"/>
<text x="116.70" y="950.90" text-anchor="end" style="font-family:'Liberation Serif',serif;font-weight:bold;font-size:21.5px"><tspan dy="0.5" style="font-weight:normal;font-size:18.5px">−</tspan><tspan dy="-0.5">6</tspan></text>
<line x1="125.40" y1="995.40" x2="131.70" y2="995.40" stroke="#000" stroke-width="2"/>
<text x="116.70" y="1001.20" text-anchor="end" style="font-family:'Liberation Serif',serif;font-weight:bold;font-size:21.5px"><tspan dy="0.5" style="font-weight:normal;font-size:18.5px">−</tspan><tspan dy="-0.5">8</tspan></text>
<line x1="143.00" y1="995.70" x2="143.00" y2="989.40" stroke="#000" stroke-width="2"/>
<text x="141.00" y="1020.60" text-anchor="middle" style="font-family:'Liberation Serif',serif;font-weight:bold;font-size:21.5px"><tspan dy="1.0" style="font-weight:normal;font-size:18.5px">−</tspan><tspan dy="-1.0">0.1</tspan></text>
<line x1="225.60" y1="995.70" x2="225.60" y2="989.40" stroke="#000" stroke-width="2"/>
<text x="223.60" y="1020.60" text-anchor="middle" style="font-family:'Liberation Serif',serif;font-weight:bold;font-size:21.5px"><tspan dy="1.0" style="font-weight:normal;font-size:18.5px">−</tspan><tspan dy="-1.0">0.05</tspan></text>
<line x1="308.20" y1="995.70" x2="308.20" y2="989.40" stroke="#000" stroke-width="2"/>
<text x="308.20" y="1020.60" text-anchor="middle" style="font-family:'Liberation Serif',serif;font-weight:bold;font-size:21.5px">0</text>
<line x1="390.80" y1="995.70" x2="390.80" y2="989.40" stroke="#000" stroke-width="2"/>
<text x="390.80" y="1020.60" text-anchor="middle" style="font-family:'Liberation Serif',serif;font-weight:bold;font-size:21.5px">0.05</text>
<line x1="473.40" y1="995.70" x2="473.40" y2="989.40" stroke="#000" stroke-width="2"/>
<text x="473.40" y="1020.60" text-anchor="middle" style="font-family:'Liberation Serif',serif;font-weight:bold;font-size:21.5px">0.1</text>
<text x="307.70" y="1058.50" text-anchor="middle" style="font-family:'Liberation Serif',serif;font-weight:bold;font-size:26.3px">X(μm)</text>
<text transform="translate(80.30,819.80) rotate(-90)" x="0" y="0" text-anchor="middle" style="font-family:'Liberation Serif',serif;font-weight:bold;font-size:26.6px">Y(μm)</text>
<text transform="translate(324.00,600.50) scale(1,1.045)" x="0" y="0" text-anchor="middle" style="font-family:'Liberation Serif',serif;font-weight:bold;font-size:57.4px">λ= 0.846 μm</text>
<text x="16.80" y="662.40" style="font-family:'Liberation Serif',serif;font-weight:bold;font-size:58.5px">(c)</text>
<rect x="507.10" y="647.80" width="41.10" height="11.74" fill="#FF0000"/>
<rect x="507.10" y="659.14" width="41.10" height="11.74" fill="#FF1400"/>
<rect x="507.10" y="670.49" width="41.10" height="11.74" fill="#FF2E00"/>
<rect x="507.10" y="681.83" width="41.10" height="11.74" fill="#FF4A00"/>
<rect x="507.10" y="693.17" width="41.10" height="11.74" fill="#FF6400"/>
<rect x="507.10" y="704.52" width="41.10" height="11.74" fill="#FF8200"/>
<rect x="507.10" y="715.86" width="41.10" height="11.74" fill="#FFA000"/>
<rect x="507.10" y="727.20" width="41.10" height="11.74" fill="#FFC800"/>
<rect x="507.10" y="738.55" width="41.10" height="11.74" fill="#FFE600"/>
<rect x="507.10" y="749.89" width="41.10" height="11.74" fill="#C8FF00"/>
<rect x="507.10" y="761.23" width="41.10" height="11.74" fill="#46FF00"/>
<rect x="507.10" y="772.58" width="41.10" height="11.74" fill="#00FF00"/>
<rect x="507.10" y="783.92" width="41.10" height="11.74" fill="#00FF00"/>
<rect x="507.10" y="795.26" width="41.10" height="11.74" fill="#00FF00"/>
<rect x="507.10" y="806.61" width="41.10" height="11.74" fill="#00FF48"/>
<rect x="507.10" y="817.95" width="41.10" height="11.74" fill="#00FF90"/>
<rect x="507.10" y="829.29" width="41.10" height="11.74" fill="#00FFD8"/>
<rect x="507.10" y="840.64" width="41.10" height="11.74" fill="#00FFFF"/>
<rect x="507.10" y="851.98" width="41.10" height="11.74" fill="#00D8FF"/>
<rect x="507.10" y="863.32" width="41.10" height="11.74" fill="#00B4FF"/>
<rect x="507.10" y="874.67" width="41.10" height="11.74" fill="#0096FF"/>
<rect x="507.10" y="886.01" width="41.10" height="11.74" fill="#0078FF"/>
<rect x="507.10" y="897.35" width="41.10" height="11.74" fill="#0058FF"/>
<rect x="507.10" y="908.70" width="41.10" height="11.74" fill="#0036FF"/>
<rect x="507.10" y="920.04" width="41.10" height="11.74" fill="#3200FF"/>
<rect x="507.10" y="931.38" width="41.10" height="11.74" fill="#4A00FF"/>
<rect x="507.10" y="942.73" width="41.10" height="11.74" fill="#6000FF"/>
<rect x="507.10" y="954.07" width="41.10" height="11.74" fill="#7A00FF"/>
<rect x="507.10" y="965.41" width="41.10" height="11.74" fill="#9C00FF"/>
<rect x="507.10" y="976.76" width="41.10" height="11.74" fill="#B800FF"/>
<rect x="507.50" y="648.20" width="41.10" height="339.50" fill="none" stroke="#000" stroke-opacity="0.5" stroke-width="1"/>
<line x1="549.20" y1="646.80" x2="549.20" y2="989.10" stroke="#000" stroke-width="2.2"/>
<line x1="548.20" y1="647.80" x2="555.70" y2="647.80" stroke="#000" stroke-width="2"/>
<text x="560.30" y="653.00" style="font-family:'Liberation Serif',serif;font-weight:bold;font-size:16.8px">2.700</text>
<line x1="548.20" y1="715.86" x2="555.70" y2="715.86" stroke="#000" stroke-width="2"/>
<text x="560.30" y="721.06" style="font-family:'Liberation Serif',serif;font-weight:bold;font-size:16.8px">2.162</text>
<line x1="548.20" y1="783.92" x2="555.70" y2="783.92" stroke="#000" stroke-width="2"/>
<text x="560.30" y="789.12" style="font-family:'Liberation Serif',serif;font-weight:bold;font-size:16.8px">1.624</text>
<line x1="548.20" y1="851.98" x2="555.70" y2="851.98" stroke="#000" stroke-width="2"/>
<text x="560.30" y="857.18" style="font-family:'Liberation Serif',serif;font-weight:bold;font-size:16.8px">1.086</text>
<line x1="548.20" y1="920.04" x2="555.70" y2="920.04" stroke="#000" stroke-width="2"/>
<text x="560.30" y="925.24" style="font-family:'Liberation Serif',serif;font-weight:bold;font-size:16.8px">0.5480</text>
<line x1="548.20" y1="988.10" x2="555.70" y2="988.10" stroke="#000" stroke-width="2"/>
<text x="560.30" y="993.30" style="font-family:'Liberation Serif',serif;font-weight:bold;font-size:16.8px">0.01000</text>
<text x="495.00" y="634.00" style="font-family:'Liberation Serif',serif;font-weight:bold;font-size:38px">V/m</text>
<clipPath id="clipd"><rect x="763.20" y="642.80" width="366.20" height="353.40"/></clipPath>
<g clip-path="url(#clipd)">
<g filter="url(#soft)">
<rect x="762.10" y="640.00" width="368.40" height="5.85" fill="#0096FF"/>
<rect x="762.10" y="645.70" width="368.40" height="1.55" fill="#3200FF"/>
<rect x="762.10" y="647.10" width="368.40" height="2.15" fill="#00FF90"/>
<rect x="762.10" y="649.10" width="368.40" height="1.45" fill="#0078FF"/>
<rect x="762.10" y="650.40" width="368.40" height="1.85" fill="#3200FF"/>
<rect x="762.10" y="652.10" width="368.40" height="2.35" fill="#00FF90"/>
<rect x="762.10" y="654.30" width="368.40" height="0.75" fill="#00B4FF"/>
<rect x="762.10" y="654.90" width="368.40" height="1.55" fill="#4A00FF"/>
<rect x="762.10" y="656.30" width="368.40" height="2.65" fill="#00FF90"/>
<rect x="762.10" y="658.80" width="368.40" height="1.55" fill="#0096FF"/>
<rect x="762.10" y="660.20" width="368.40" height="0.95" fill="#3200FF"/>
<rect x="762.10" y="661.00" width="368.40" height="2.95" fill="#00FF90"/>
<rect x="762.10" y="663.80" width="368.40" height="1.75" fill="#6000FF"/>
<rect x="762.10" y="665.40" width="368.40" height="3.55" fill="#00FFFF"/>
<rect x="762.10" y="668.80" width="368.40" height="1.55" fill="#9C00FF"/>
<rect x="762.10" y="670.20" width="368.40" height="0.75" fill="#6000FF"/>
<rect x="762.10" y="670.80" width="368.40" height="3.25" fill="#00FFFF"/>
<rect x="762.10" y="673.90" width="368.40" height="2.05" fill="#B800FF"/>
<rect x="762.10" y="675.80" width="368.40" height="2.65" fill="#00FFFF"/>
<rect x="762.10" y="678.30" width="368.40" height="2.65" fill="#9C00FF"/>
<rect x="762.10" y="680.80" width="368.40" height="2.35" fill="#00FFD8"/>
<rect x="762.10" y="683.00" width="368.40" height="2.75" fill="#7A00FF"/>
<rect x="762.10" y="685.60" width="368.40" height="2.55" fill="#00FFD8"/>
<rect x="762.10" y="688.00" width="368.40" height="2.15" fill="#9C00FF"/>
<rect x="762.10" y="690.00" width="368.40" height="2.75" fill="#00FFFF"/>
<rect x="762.10" y="692.60" width="368.40" height="3.15" fill="#4A00FF"/>
<rect x="762.10" y="695.60" width="368.40" height="3.45" fill="#00FFD8"/>
<rect x="762.10" y="698.90" width="368.40" height="1.65" fill="#7A00FF"/>
<rect x="762.10" y="700.40" width="368.40" height="2.45" fill="#00FFD8"/>
<rect x="762.10" y="702.70" width="368.40" height="1.65" fill="#4A00FF"/>
<rect x="762.10" y="704.20" width="368.40" height="16.05" fill="#00B4FF"/>
<rect x="762.10" y="720.10" width="368.40" height="2.85" fill="#0078FF"/>
<rect x="762.10" y="722.80" width="368.40" height="1.25" fill="#7A00FF"/>
<rect x="762.10" y="723.90" width="368.40" height="5.15" fill="#3200FF"/>
<rect x="762.10" y="728.90" width="368.40" height="1.25" fill="#0058FF"/>
<rect x="762.10" y="730.00" width="368.40" height="3.45" fill="#4A00FF"/>
<rect x="762.10" y="733.30" width="368.40" height="1.85" fill="#0036FF"/>
<rect x="762.10" y="735.00" width="368.40" height="1.55" fill="#9C00FF"/>
<rect x="762.10" y="736.40" width="368.40" height="2.65" fill="#6000FF"/>
<rect x="762.10" y="738.90" width="368.40" height="1.85" fill="#4A00FF"/>
<rect x="762.10" y="740.60" width="368.40" height="1.75" fill="#00D8FF"/>
<rect x="762.10" y="742.20" width="368.40" height="2.35" fill="#0036FF"/>
<rect x="762.10" y="744.40" width="368.40" height="1.85" fill="#7A00FF"/>
<rect x="762.10" y="746.10" width="368.40" height="4.85" fill="#3200FF"/>
<rect x="762.10" y="750.80" width="368.40" height="1.75" fill="#0058FF"/>
<rect x="762.10" y="752.40" width="368.40" height="1.75" fill="#6000FF"/>
<rect x="762.10" y="754.00" width="368.40" height="1.15" fill="#3200FF"/>
<rect x="762.10" y="755.00" width="368.40" height="1.05" fill="#7A00FF"/>
<rect x="762.10" y="755.90" width="368.40" height="2.25" fill="#0036FF"/>
<rect x="762.10" y="758.00" width="368.40" height="1.55" fill="#6000FF"/>
<rect x="762.10" y="759.40" width="368.40" height="1.75" fill="#7A00FF"/>
<rect x="762.10" y="761.00" width="368.40" height="1.95" fill="#3200FF"/>
<rect x="762.10" y="762.80" width="368.40" height="2.45" fill="#9C00FF"/>
<rect x="762.10" y="765.10" width="368.40" height="1.55" fill="#6000FF"/>
<rect x="762.10" y="766.50" width="368.40" height="1.65" fill="#0036FF"/>
<rect x="762.10" y="768.00" width="368.40" height="3.75" fill="#7A00FF"/>
<rect x="762.10" y="771.60" width="368.40" height="4.35" fill="#4A00FF"/>
<rect x="762.10" y="775.80" width="368.40" height="2.95" fill="#9C00FF"/>
<rect x="762.10" y="778.60" width="368.40" height="1.95" fill="#4A00FF"/>
<rect x="762.10" y="780.40" width="368.40" height="1.55" fill="#3200FF"/>
<rect x="762.10" y="781.80" width="368.40" height="2.05" fill="#0058FF"/>
<rect x="762.10" y="783.70" width="368.40" height="1.55" fill="#9C00FF"/>
<rect x="762.10" y="785.10" width="368.40" height="2.45" fill="#4A00FF"/>
<rect x="762.10" y="787.40" width="368.40" height="99.75" fill="#9C00FF"/>
<rect x="762.10" y="887.00" width="368.40" height="113.15" fill="#B800FF"/>
<rect x="762.10" y="704.20" width="37.40" height="3.15" fill="#00FF00"/>
<rect x="762.10" y="707.20" width="37.40" height="2.45" fill="#4A00FF"/>
<rect x="762.10" y="709.50" width="37.40" height="3.15" fill="#0096FF"/>
<rect x="762.10" y="712.50" width="37.40" height="1.95" fill="#4A00FF"/>
<rect x="762.10" y="714.30" width="37.40" height="1.05" fill="#7A00FF"/>
<rect x="762.10" y="715.20" width="37.40" height="0.95" fill="#FFE600"/>
<rect x="762.10" y="716.00" width="37.40" height="1.45" fill="#FF6400"/>
<rect x="762.10" y="717.30" width="37.40" height="2.95" fill="#00B4FF"/>
<rect x="1092.90" y="704.20" width="37.60" height="3.15" fill="#00FF00"/>
<rect x="1092.90" y="707.20" width="37.60" height="2.45" fill="#4A00FF"/>
<rect x="1092.90" y="709.50" width="37.60" height="3.15" fill="#0096FF"/>
<rect x="1092.90" y="712.50" width="37.60" height="1.95" fill="#4A00FF"/>
<rect x="1092.90" y="714.30" width="37.60" height="1.05" fill="#7A00FF"/>
<rect x="1092.90" y="715.20" width="37.60" height="0.95" fill="#FFE600"/>
<rect x="1092.90" y="716.00" width="37.60" height="1.45" fill="#FF6400"/>
<rect x="1092.90" y="717.30" width="37.60" height="2.95" fill="#00B4FF"/>
<rect x="799.50" y="700.40" width="36.67" height="2.45" fill="#00FF90"/>
<rect x="799.50" y="702.70" width="36.67" height="1.65" fill="#4A00FF"/>
<rect x="799.50" y="704.20" width="36.67" height="3.15" fill="#00FF00"/>
<rect x="799.50" y="707.20" width="36.67" height="2.45" fill="#3200FF"/>
<rect x="799.50" y="709.50" width="36.67" height="1.95" fill="#00D8FF"/>
<rect x="799.50" y="711.30" width="36.67" height="2.35" fill="#3200FF"/>
<rect x="799.50" y="713.50" width="36.67" height="1.55" fill="#7A00FF"/>
<rect x="799.50" y="714.90" width="36.67" height="2.55" fill="#46FF00"/>
<rect x="799.50" y="717.30" width="36.67" height="2.95" fill="#00B4FF"/>
<rect x="1056.22" y="700.40" width="36.67" height="2.45" fill="#00FF90"/>
<rect x="1056.22" y="702.70" width="36.67" height="1.65" fill="#4A00FF"/>
<rect x="1056.22" y="704.20" width="36.67" height="3.15" fill="#00FF00"/>
<rect x="1056.22" y="707.20" width="36.67" height="2.45" fill="#3200FF"/>
<rect x="1056.22" y="709.50" width="36.67" height="1.95" fill="#00D8FF"/>
<rect x="1056.22" y="711.30" width="36.67" height="2.35" fill="#3200FF"/>
<rect x="1056.22" y="713.50" width="36.67" height="1.55" fill="#7A00FF"/>
<rect x="1056.22" y="714.90" width="36.67" height="2.55" fill="#46FF00"/>
<rect x="1056.22" y="717.30" width="36.67" height="2.95" fill="#00B4FF"/>
<rect x="836.18" y="700.00" width="36.67" height="3.35" fill="#00FF48"/>
<rect x="836.18" y="703.20" width="36.67" height="1.05" fill="#4A00FF"/>
<rect x="836.18" y="704.10" width="36.67" height="3.35" fill="#00FF48"/>
<rect x="836.18" y="707.30" width="36.67" height="1.45" fill="#4A00FF"/>
<rect x="836.18" y="708.60" width="36.67" height="4.25" fill="#00D8FF"/>
<rect x="836.18" y="712.70" width="36.67" height="2.45" fill="#7A00FF"/>
<rect x="836.18" y="715.00" width="36.67" height="5.25" fill="#00D8FF"/>
<rect x="1019.55" y="700.00" width="36.67" height="3.35" fill="#00FF48"/>
<rect x="1019.55" y="703.20" width="36.67" height="1.05" fill="#4A00FF"/>
<rect x="1019.55" y="704.10" width="36.67" height="3.35" fill="#00FF48"/>
<rect x="1019.55" y="707.30" width="36.67" height="1.45" fill="#4A00FF"/>
<rect x="1019.55" y="708.60" width="36.67" height="4.25" fill="#00D8FF"/>
<rect x="1019.55" y="712.70" width="36.67" height="2.45" fill="#7A00FF"/>
<rect x="1019.55" y="715.00" width="36.67" height="5.25" fill="#00D8FF"/>
<rect x="872.85" y="700.00" width="36.67" height="3.35" fill="#00FFFF"/>
<rect x="872.85" y="703.20" width="36.67" height="1.05" fill="#4A00FF"/>
<rect x="872.85" y="704.10" width="36.67" height="3.35" fill="#00FFFF"/>
<rect x="872.85" y="707.30" width="36.67" height="1.45" fill="#3200FF"/>
<rect x="872.85" y="708.60" width="36.67" height="4.25" fill="#00FF00"/>
<rect x="872.85" y="712.70" width="36.67" height="2.45" fill="#7A00FF"/>
<rect x="872.85" y="715.00" width="36.67" height="5.25" fill="#00B4FF"/>
<rect x="982.87" y="700.00" width="36.67" height="3.35" fill="#00FFFF"/>
<rect x="982.87" y="703.20" width="36.67" height="1.05" fill="#4A00FF"/>
<rect x="982.87" y="704.10" width="36.67" height="3.35" fill="#00FFFF"/>
<rect x="982.87" y="707.30" width="36.67" height="1.45" fill="#3200FF"/>
<rect x="982.87" y="708.60" width="36.67" height="4.25" fill="#00FF00"/>
<rect x="982.87" y="712.70" width="36.67" height="2.45" fill="#7A00FF"/>
<rect x="982.87" y="715.00" width="36.67" height="5.25" fill="#00B4FF"/>
<rect x="909.53" y="696.10" width="73.35" height="1.75" fill="#00FFFF"/>
<rect x="909.53" y="697.70" width="73.35" height="2.45" fill="#7A00FF"/>
<rect x="909.53" y="700.00" width="73.35" height="3.05" fill="#00B4FF"/>
<rect x="909.53" y="702.90" width="73.35" height="3.45" fill="#3200FF"/>
<rect x="909.53" y="706.20" width="73.35" height="1.05" fill="#0058FF"/>
<rect x="909.53" y="707.10" width="73.35" height="1.45" fill="#6000FF"/>
<rect x="909.53" y="708.40" width="73.35" height="0.85" fill="#0078FF"/>
<rect x="909.53" y="709.10" width="73.35" height="4.05" fill="#00FF00"/>
<rect x="909.53" y="713.00" width="73.35" height="1.15" fill="#4A00FF"/>
<rect x="909.53" y="714.00" width="73.35" height="1.05" fill="#B800FF"/>
<rect x="909.53" y="714.90" width="73.35" height="3.05" fill="#0036FF"/>
<rect x="909.53" y="717.80" width="73.35" height="2.45" fill="#00D8FF"/>
</g>
<g fill="#000" filter="url(#dsoft)">
<circle cx="768.80" cy="795.20" r="2.0"/>
<circle cx="774.45" cy="795.20" r="2.0"/>
<circle cx="780.10" cy="795.20" r="2.0"/>
<circle cx="785.75" cy="795.20" r="2.0"/>
<circle cx="791.40" cy="795.20" r="2.0"/>
<circle cx="797.05" cy="795.20" r="2.0"/>
<circle cx="802.70" cy="795.20" r="2.0"/>
<circle cx="808.35" cy="795.20" r="2.0"/>
<circle cx="814.00" cy="795.20" r="2.0"/>
<circle cx="819.65" cy="795.20" r="2.0"/>
<circle cx="825.30" cy="795.20" r="2.0"/>
<circle cx="830.95" cy="795.20" r="2.0"/>
<circle cx="836.60" cy="795.20" r="2.0"/>
<circle cx="842.25" cy="795.20" r="2.0"/>
<circle cx="847.90" cy="795.20" r="2.0"/>
<circle cx="853.55" cy="795.20" r="2.0"/>
<circle cx="859.20" cy="795.20" r="2.0"/>
<circle cx="864.85" cy="795.20" r="2.0"/>
<circle cx="870.50" cy="795.20" r="2.0"/>
<circle cx="876.15" cy="795.20" r="2.0"/>
<circle cx="881.80" cy="795.20" r="2.0"/>
<circle cx="887.45" cy="795.20" r="2.0"/>
<circle cx="893.10" cy="795.20" r="2.0"/>
<circle cx="898.75" cy="795.20" r="2.0"/>
<circle cx="904.40" cy="795.20" r="2.0"/>
<circle cx="910.05" cy="795.20" r="2.0"/>
<circle cx="915.70" cy="795.20" r="2.0"/>
<circle cx="921.35" cy="795.20" r="2.0"/>
<circle cx="927.00" cy="795.20" r="2.0"/>
<circle cx="932.65" cy="795.20" r="2.0"/>
<circle cx="938.30" cy="795.20" r="2.0"/>
<circle cx="943.95" cy="795.20" r="2.0"/>
<circle cx="949.60" cy="795.20" r="2.0"/>
<circle cx="955.25" cy="795.20" r="2.0"/>
<circle cx="960.90" cy="795.20" r="2.0"/>
<circle cx="966.55" cy="795.20" r="2.0"/>
<circle cx="972.20" cy="795.20" r="2.0"/>
<circle cx="977.85" cy="795.20" r="2.0"/>
<circle cx="983.50" cy="795.20" r="2.0"/>
<circle cx="989.15" cy="795.20" r="2.0"/>
<circle cx="994.80" cy="795.20" r="2.0"/>
<circle cx="1000.45" cy="795.20" r="2.0"/>
<circle cx="1006.10" cy="795.20" r="2.0"/>
<circle cx="1011.75" cy="795.20" r="2.0"/>
<circle cx="1017.40" cy="795.20" r="2.0"/>
<circle cx="1023.05" cy="795.20" r="2.0"/>
<circle cx="1028.70" cy="795.20" r="2.0"/>
<circle cx="1034.35" cy="795.20" r="2.0"/>
<circle cx="1040.00" cy="795.20" r="2.0"/>
<circle cx="1045.65" cy="795.20" r="2.0"/>
<circle cx="1051.30" cy="795.20" r="2.0"/>
<circle cx="1056.95" cy="795.20" r="2.0"/>
<circle cx="1062.60" cy="795.20" r="2.0"/>
<circle cx="1068.25" cy="795.20" r="2.0"/>
<circle cx="1073.90" cy="795.20" r="2.0"/>
<circle cx="1079.55" cy="795.20" r="2.0"/>
<circle cx="1085.20" cy="795.20" r="2.0"/>
<circle cx="1090.85" cy="795.20" r="2.0"/>
<circle cx="1096.50" cy="795.20" r="2.0"/>
<circle cx="1102.15" cy="795.20" r="2.0"/>
<circle cx="1107.80" cy="795.20" r="2.0"/>
<circle cx="1113.45" cy="795.20" r="2.0"/>
<circle cx="1119.10" cy="795.20" r="2.0"/>
<circle cx="1124.75" cy="795.20" r="2.0"/>
<circle cx="768.80" cy="720.10" r="2.0"/>
<circle cx="774.45" cy="720.10" r="2.0"/>
<circle cx="780.10" cy="720.10" r="2.0"/>
<circle cx="785.75" cy="720.10" r="2.0"/>
<circle cx="791.40" cy="720.10" r="2.0"/>
<circle cx="797.05" cy="720.10" r="2.0"/>
<circle cx="802.70" cy="720.10" r="2.0"/>
<circle cx="808.35" cy="720.10" r="2.0"/>
<circle cx="814.00" cy="720.10" r="2.0"/>
<circle cx="819.65" cy="720.10" r="2.0"/>
<circle cx="825.30" cy="720.10" r="2.0"/>
<circle cx="830.95" cy="720.10" r="2.0"/>
<circle cx="836.60" cy="720.10" r="2.0"/>
<circle cx="842.25" cy="720.10" r="2.0"/>
<circle cx="847.90" cy="720.10" r="2.0"/>
<circle cx="853.55" cy="720.10" r="2.0"/>
<circle cx="859.20" cy="720.10" r="2.0"/>
<circle cx="864.85" cy="720.10" r="2.0"/>
<circle cx="870.50" cy="720.10" r="2.0"/>
<circle cx="876.15" cy="720.10" r="2.0"/>
<circle cx="881.80" cy="720.10" r="2.0"/>
<circle cx="887.45" cy="720.10" r="2.0"/>
<circle cx="893.10" cy="720.10" r="2.0"/>
<circle cx="898.75" cy="720.10" r="2.0"/>
<circle cx="904.40" cy="720.10" r="2.0"/>
<circle cx="910.05" cy="720.10" r="2.0"/>
<circle cx="915.70" cy="720.10" r="2.0"/>
<circle cx="921.35" cy="720.10" r="2.0"/>
<circle cx="927.00" cy="720.10" r="2.0"/>
<circle cx="932.65" cy="720.10" r="2.0"/>
<circle cx="938.30" cy="720.10" r="2.0"/>
<circle cx="943.95" cy="720.10" r="2.0"/>
<circle cx="949.60" cy="720.10" r="2.0"/>
<circle cx="955.25" cy="720.10" r="2.0"/>
<circle cx="960.90" cy="720.10" r="2.0"/>
<circle cx="966.55" cy="720.10" r="2.0"/>
<circle cx="972.20" cy="720.10" r="2.0"/>
<circle cx="977.85" cy="720.10" r="2.0"/>
<circle cx="983.50" cy="720.10" r="2.0"/>
<circle cx="989.15" cy="720.10" r="2.0"/>
<circle cx="994.80" cy="720.10" r="2.0"/>
<circle cx="1000.45" cy="720.10" r="2.0"/>
<circle cx="1006.10" cy="720.10" r="2.0"/>
<circle cx="1011.75" cy="720.10" r="2.0"/>
<circle cx="1017.40" cy="720.10" r="2.0"/>
<circle cx="1023.05" cy="720.10" r="2.0"/>
<circle cx="1028.70" cy="720.10" r="2.0"/>
<circle cx="1034.35" cy="720.10" r="2.0"/>
<circle cx="1040.00" cy="720.10" r="2.0"/>
<circle cx="1045.65" cy="720.10" r="2.0"/>
<circle cx="1051.30" cy="720.10" r="2.0"/>
<circle cx="1056.95" cy="720.10" r="2.0"/>
<circle cx="1062.60" cy="720.10" r="2.0"/>
<circle cx="1068.25" cy="720.10" r="2.0"/>
<circle cx="1073.90" cy="720.10" r="2.0"/>
<circle cx="1079.55" cy="720.10" r="2.0"/>
<circle cx="1085.20" cy="720.10" r="2.0"/>
<circle cx="1090.85" cy="720.10" r="2.0"/>
<circle cx="1096.50" cy="720.10" r="2.0"/>
<circle cx="1102.15" cy="720.10" r="2.0"/>
<circle cx="1107.80" cy="720.10" r="2.0"/>
<circle cx="1113.45" cy="720.10" r="2.0"/>
<circle cx="1119.10" cy="720.10" r="2.0"/>
<circle cx="1124.75" cy="720.10" r="2.0"/>
<circle cx="943.32" cy="696.96" r="2.0"/>
<circle cx="937.72" cy="697.69" r="2.0"/>
<circle cx="932.12" cy="698.42" r="2.0"/>
<circle cx="926.51" cy="699.15" r="2.0"/>
<circle cx="920.91" cy="699.87" r="2.0"/>
<circle cx="915.31" cy="700.60" r="2.0"/>
<circle cx="909.71" cy="701.33" r="2.0"/>
<circle cx="904.10" cy="702.06" r="2.0"/>
<circle cx="898.50" cy="702.79" r="2.0"/>
<circle cx="892.90" cy="703.52" r="2.0"/>
<circle cx="887.29" cy="704.24" r="2.0"/>
<circle cx="881.69" cy="704.97" r="2.0"/>
<circle cx="876.09" cy="705.70" r="2.0"/>
<circle cx="870.49" cy="706.43" r="2.0"/>
<circle cx="864.88" cy="707.16" r="2.0"/>
<circle cx="859.28" cy="707.88" r="2.0"/>
<circle cx="853.68" cy="708.61" r="2.0"/>
<circle cx="848.07" cy="709.34" r="2.0"/>
<circle cx="842.47" cy="710.07" r="2.0"/>
<circle cx="836.87" cy="710.80" r="2.0"/>
<circle cx="831.27" cy="711.53" r="2.0"/>
<circle cx="825.66" cy="712.25" r="2.0"/>
<circle cx="820.06" cy="712.98" r="2.0"/>
<circle cx="814.46" cy="713.71" r="2.0"/>
<circle cx="808.85" cy="714.44" r="2.0"/>
<circle cx="803.25" cy="715.17" r="2.0"/>
<circle cx="797.65" cy="715.90" r="2.0"/>
<circle cx="792.05" cy="716.62" r="2.0"/>
<circle cx="786.44" cy="717.35" r="2.0"/>
<circle cx="780.84" cy="718.08" r="2.0"/>
<circle cx="775.24" cy="718.81" r="2.0"/>
<circle cx="769.63" cy="719.54" r="2.0"/>
<circle cx="948.88" cy="696.96" r="2.0"/>
<circle cx="954.48" cy="697.68" r="2.0"/>
<circle cx="960.08" cy="698.40" r="2.0"/>
<circle cx="965.69" cy="699.13" r="2.0"/>
<circle cx="971.29" cy="699.85" r="2.0"/>
<circle cx="976.89" cy="700.57" r="2.0"/>
<circle cx="982.50" cy="701.29" r="2.0"/>
<circle cx="988.10" cy="702.02" r="2.0"/>
<circle cx="993.71" cy="702.74" r="2.0"/>
<circle cx="999.31" cy="703.46" r="2.0"/>
<circle cx="1004.91" cy="704.19" r="2.0"/>
<circle cx="1010.52" cy="704.91" r="2.0"/>
<circle cx="1016.12" cy="705.63" r="2.0"/>
<circle cx="1021.72" cy="706.35" r="2.0"/>
<circle cx="1027.33" cy="707.08" r="2.0"/>
<circle cx="1032.93" cy="707.80" r="2.0"/>
<circle cx="1038.53" cy="708.52" r="2.0"/>
<circle cx="1044.14" cy="709.24" r="2.0"/>
<circle cx="1049.74" cy="709.97" r="2.0"/>
<circle cx="1055.35" cy="710.69" r="2.0"/>
<circle cx="1060.95" cy="711.41" r="2.0"/>
<circle cx="1066.55" cy="712.14" r="2.0"/>
<circle cx="1072.16" cy="712.86" r="2.0"/>
<circle cx="1077.76" cy="713.58" r="2.0"/>
<circle cx="1083.36" cy="714.30" r="2.0"/>
<circle cx="1088.97" cy="715.03" r="2.0"/>
<circle cx="1094.57" cy="715.75" r="2.0"/>
<circle cx="1100.17" cy="716.47" r="2.0"/>
<circle cx="1105.78" cy="717.20" r="2.0"/>
<circle cx="1111.38" cy="717.92" r="2.0"/>
<circle cx="1116.98" cy="718.64" r="2.0"/>
<circle cx="1122.59" cy="719.36" r="2.0"/>
<circle cx="1128.19" cy="720.09" r="2.0"/>
</g>
</g>
<rect x="763.20" y="642.80" width="366.20" height="353.40" fill="none" stroke="#000" stroke-width="2.2"/>
<line x1="763.80" y1="643.20" x2="770.10" y2="643.20" stroke="#000" stroke-width="2"/>
<text x="754.90" y="649.00" text-anchor="end" style="font-family:'Liberation Serif',serif;font-weight:bold;font-size:21.5px">6</text>
<line x1="763.80" y1="693.60" x2="770.10" y2="693.60" stroke="#000" stroke-width="2"/>
<text x="754.90" y="699.40" text-anchor="end" style="font-family:'Liberation Serif',serif;font-weight:bold;font-size:21.5px">4</text>
<line x1="763.80" y1="744.00" x2="770.10" y2="744.00" stroke="#000" stroke-width="2"/>
<text x="754.90" y="749.80" text-anchor="end" style="font-family:'Liberation Serif',serif;font-weight:bold;font-size:21.5px">2</text>
<line x1="763.80" y1="794.40" x2="770.10" y2="794.40" stroke="#000" stroke-width="2"/>
<text x="754.90" y="800.20" text-anchor="end" style="font-family:'Liberation Serif',serif;font-weight:bold;font-size:21.5px">0</text>
<line x1="763.80" y1="844.80" x2="770.10" y2="844.80" stroke="#000" stroke-width="2"/>
<text x="754.90" y="850.60" text-anchor="end" style="font-family:'Liberation Serif',serif;font-weight:bold;font-size:21.5px"><tspan dy="0.5" style="font-weight:normal;font-size:18.5px">−</tspan><tspan dy="-0.5">2</tspan></text>
<line x1="763.80" y1="895.20" x2="770.10" y2="895.20" stroke="#000" stroke-width="2"/>
<text x="754.90" y="901.00" text-anchor="end" style="font-family:'Liberation Serif',serif;font-weight:bold;font-size:21.5px"><tspan dy="0.5" style="font-weight:normal;font-size:18.5px">−</tspan><tspan dy="-0.5">4</tspan></text>
<line x1="763.80" y1="945.60" x2="770.10" y2="945.60" stroke="#000" stroke-width="2"/>
<text x="754.90" y="951.40" text-anchor="end" style="font-family:'Liberation Serif',serif;font-weight:bold;font-size:21.5px"><tspan dy="0.5" style="font-weight:normal;font-size:18.5px">−</tspan><tspan dy="-0.5">6</tspan></text>
<line x1="763.80" y1="996.00" x2="770.10" y2="996.00" stroke="#000" stroke-width="2"/>
<text x="754.90" y="1001.80" text-anchor="end" style="font-family:'Liberation Serif',serif;font-weight:bold;font-size:21.5px"><tspan dy="0.5" style="font-weight:normal;font-size:18.5px">−</tspan><tspan dy="-0.5">8</tspan></text>
<line x1="781.00" y1="995.60" x2="781.00" y2="989.30" stroke="#000" stroke-width="2"/>
<text x="779.00" y="1020.90" text-anchor="middle" style="font-family:'Liberation Serif',serif;font-weight:bold;font-size:21.5px"><tspan dy="1.0" style="font-weight:normal;font-size:18.5px">−</tspan><tspan dy="-1.0">0.1</tspan></text>
<line x1="863.60" y1="995.60" x2="863.60" y2="989.30" stroke="#000" stroke-width="2"/>
<text x="861.60" y="1020.90" text-anchor="middle" style="font-family:'Liberation Serif',serif;font-weight:bold;font-size:21.5px"><tspan dy="1.0" style="font-weight:normal;font-size:18.5px">−</tspan><tspan dy="-1.0">0.05</tspan></text>
<line x1="946.20" y1="995.60" x2="946.20" y2="989.30" stroke="#000" stroke-width="2"/>
<text x="946.20" y="1020.90" text-anchor="middle" style="font-family:'Liberation Serif',serif;font-weight:bold;font-size:21.5px">0</text>
<line x1="1028.80" y1="995.60" x2="1028.80" y2="989.30" stroke="#000" stroke-width="2"/>
<text x="1028.80" y="1020.90" text-anchor="middle" style="font-family:'Liberation Serif',serif;font-weight:bold;font-size:21.5px">0.05</text>
<line x1="1111.40" y1="995.60" x2="1111.40" y2="989.30" stroke="#000" stroke-width="2"/>
<text x="1111.40" y="1020.90" text-anchor="middle" style="font-family:'Liberation Serif',serif;font-weight:bold;font-size:21.5px">0.1</text>
<text x="945.70" y="1052.50" text-anchor="middle" style="font-family:'Liberation Serif',serif;font-weight:bold;font-size:26.3px">X(μm)</text>
<text transform="translate(718.70,819.80) rotate(-90)" x="0" y="0" text-anchor="middle" style="font-family:'Liberation Serif',serif;font-weight:bold;font-size:26.6px">Y(μm)</text>
<text transform="translate(965.80,605.70) scale(1,1.045)" x="0" y="0" text-anchor="middle" style="font-family:'Liberation Serif',serif;font-weight:bold;font-size:57.4px">λ= 0.400 μm</text>
<text x="641.60" y="657.00" style="font-family:'Liberation Serif',serif;font-weight:bold;font-size:58.5px">(d)</text>
<rect x="1143.70" y="648.20" width="41.10" height="11.74" fill="#FF0000"/>
<rect x="1143.70" y="659.54" width="41.10" height="11.74" fill="#FF1400"/>
<rect x="1143.70" y="670.89" width="41.10" height="11.74" fill="#FF2E00"/>
<rect x="1143.70" y="682.23" width="41.10" height="11.74" fill="#FF4A00"/>
<rect x="1143.70" y="693.57" width="41.10" height="11.74" fill="#FF6400"/>
<rect x="1143.70" y="704.92" width="41.10" height="11.74" fill="#FF8200"/>
<rect x="1143.70" y="716.26" width="41.10" height="11.74" fill="#FFA000"/>
<rect x="1143.70" y="727.60" width="41.10" height="11.74" fill="#FFC800"/>
<rect x="1143.70" y="738.95" width="41.10" height="11.74" fill="#FFE600"/>
<rect x="1143.70" y="750.29" width="41.10" height="11.74" fill="#C8FF00"/>
<rect x="1143.70" y="761.63" width="41.10" height="11.74" fill="#46FF00"/>
<rect x="1143.70" y="772.98" width="41.10" height="11.74" fill="#00FF00"/>
<rect x="1143.70" y="784.32" width="41.10" height="11.74" fill="#00FF00"/>
<rect x="1143.70" y="795.66" width="41.10" height="11.74" fill="#00FF00"/>
<rect x="1143.70" y="807.01" width="41.10" height="11.74" fill="#00FF48"/>
<rect x="1143.70" y="818.35" width="41.10" height="11.74" fill="#00FF90"/>
<rect x="1143.70" y="829.69" width="41.10" height="11.74" fill="#00FFD8"/>
<rect x="1143.70" y="841.04" width="41.10" height="11.74" fill="#00FFFF"/>
<rect x="1143.70" y="852.38" width="41.10" height="11.74" fill="#00D8FF"/>
<rect x="1143.70" y="863.72" width="41.10" height="11.74" fill="#00B4FF"/>
<rect x="1143.70" y="875.07" width="41.10" height="11.74" fill="#0096FF"/>
<rect x="1143.70" y="886.41" width="41.10" height="11.74" fill="#0078FF"/>
<rect x="1143.70" y="897.75" width="41.10" height="11.74" fill="#0058FF"/>
<rect x="1143.70" y="909.10" width="41.10" height="11.74" fill="#0036FF"/>
<rect x="1143.70" y="920.44" width="41.10" height="11.74" fill="#3200FF"/>
<rect x="1143.70" y="931.78" width="41.10" height="11.74" fill="#4A00FF"/>
<rect x="1143.70" y="943.13" width="41.10" height="11.74" fill="#6000FF"/>
<rect x="1143.70" y="954.47" width="41.10" height="11.74" fill="#7A00FF"/>
<rect x="1143.70" y="965.81" width="41.10" height="11.74" fill="#9C00FF"/>
<rect x="1143.70" y="977.16" width="41.10" height="11.74" fill="#B800FF"/>
<rect x="1144.10" y="648.60" width="41.10" height="339.50" fill="none" stroke="#000" stroke-opacity="0.5" stroke-width="1"/>
<line x1="1185.80" y1="647.20" x2="1185.80" y2="989.50" stroke="#000" stroke-width="2.2"/>
<line x1="1184.80" y1="648.20" x2="1192.30" y2="648.20" stroke="#000" stroke-width="2"/>
<text x="1198.60" y="653.50" style="font-family:'Liberation Serif',serif;font-weight:bold;font-size:16px">3.900</text>
<line x1="1184.80" y1="716.26" x2="1192.30" y2="716.26" stroke="#000" stroke-width="2"/>
<text x="1198.60" y="721.56" style="font-family:'Liberation Serif',serif;font-weight:bold;font-size:16px">3.124</text>
<line x1="1184.80" y1="784.32" x2="1192.30" y2="784.32" stroke="#000" stroke-width="2"/>
<text x="1198.60" y="789.62" style="font-family:'Liberation Serif',serif;font-weight:bold;font-size:16px">2.348</text>
<line x1="1184.80" y1="852.38" x2="1192.30" y2="852.38" stroke="#000" stroke-width="2"/>
<text x="1198.60" y="857.68" style="font-family:'Liberation Serif',serif;font-weight:bold;font-size:16px">1.572</text>
<line x1="1184.80" y1="920.44" x2="1192.30" y2="920.44" stroke="#000" stroke-width="2"/>
<text x="1198.60" y="925.74" style="font-family:'Liberation Serif',serif;font-weight:bold;font-size:16px">0.7960</text>
<line x1="1184.80" y1="988.50" x2="1192.30" y2="988.50" stroke="#000" stroke-width="2"/>
<text x="1198.60" y="993.80" style="font-family:'Liberation Serif',serif;font-weight:bold;font-size:16px">0.02000</text>
<text x="1130.50" y="631.80" style="font-family:'Liberation Serif',serif;font-weight:bold;font-size:38px">V/m</text>
</svg></body></html>
